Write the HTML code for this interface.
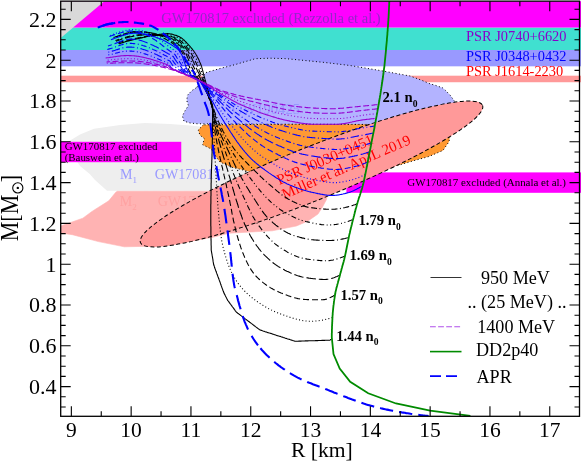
<!DOCTYPE html>
<html><head><meta charset="utf-8"><title>M-R</title>
<style>
html,body{margin:0;padding:0;background:#fff;}
body{width:581px;height:461px;overflow:hidden;}
svg text{font-family:"Liberation Serif",serif;}
svg{will-change:transform;}
</style></head><body>
<svg width="581" height="461" viewBox="0 0 581 461" style="display:block">
<rect x="0" y="0" width="581" height="461" fill="#ffffff"/>
<defs><clipPath id="cp"><rect x="60.70" y="1.15" width="520.30" height="415.15"/></clipPath></defs>
<g clip-path="url(#cp)">
<rect x="60.70" y="27.56" width="520.30" height="22.44" fill="#40e0d0"/>
<rect x="60.70" y="50.00" width="520.30" height="16.32" fill="#9999ff"/>
<rect x="60.70" y="75.70" width="520.30" height="6.53" fill="#ff9999"/>
<rect x="60.70" y="-1.00" width="520.30" height="28.56" fill="#ff00ff"/>
<path d="M60.7 1.1 L104.6 1.1 L60.7 38.0Z" fill="#d9d9d9"/>
<path d="M64.0 150.0 L68.9 141.2 L80.0 134.5 L94.0 128.8 L120.0 125.0 L145.0 123.0 L170.0 124.0 L190.0 125.5 L215.0 128.0 L250.0 140.0 L262.0 160.0 L255.0 180.0 L235.0 190.8 L107.0 190.8 L95.0 180.0 L89.7 174.0 L80.0 166.0 L76.0 160.0Z" fill="#eeeeee"/>
<path d="M60.7 226.0 L70.6 222.5 L82.8 218.2 L92.3 211.2 L108.8 200.8 L115.8 192.2 L117.3 191.3 L240.0 191.2 L300.0 192.0 L327.2 194.6 L326.5 199.5 L322.5 207.0 L318.0 214.0 L308.0 221.0 L296.4 226.0 L272.3 230.8 L229.0 233.2 L212.0 237.5 L180.0 243.0 L160.0 246.0 L141.8 246.4 L124.4 246.8 L98.4 241.6 L72.4 234.7 L60.7 233.0Z" fill="#ffb3b3" stroke="#ffb3b3" stroke-width="0.6" stroke-linejoin="round"/>
<rect x="60.70" y="141.80" width="120.55" height="20.40" fill="#ff00ff"/>
<rect x="346.40" y="172.40" width="234.60" height="20.40" fill="#ff00ff"/>
<text x="120" y="179.2" font-size="14" fill="#9999ff">M<tspan font-size="9" dy="4">1</tspan></text>
<text x="154.8" y="179.2" font-size="14.1" fill="#9999ff">GW170817</text>
<text x="119.7" y="206" font-size="14" fill="#ffa2a2">M<tspan font-size="9" dy="4">2</tspan></text>
<text x="157.7" y="206" font-size="14.1" fill="#ffa2a2">GW170817</text>
<path d="M197.0 87.3 L200.0 80.0 L205.8 72.6 L220.0 68.5 L234.4 64.8 L255.3 58.7 L270.0 58.2 L285.0 58.6 L300.0 60.0 L325.0 62.5 L350.0 65.5 L380.0 70.5 L410.0 76.0 L421.0 80.0 L430.0 83.8 L435.0 85.2 L442.5 87.8 L445.5 90.4 L450.0 95.0 L454.2 100.8 L456.0 104.0 L440.0 125.0 L380.0 125.0 L300.0 124.5 L198.0 123.8 L190.0 123.0 L184.0 121.2 L182.4 116.0 L185.0 110.8 L188.4 105.6 L186.7 100.3 L187.6 95.1 L192.0 90.5Z" fill="#b3b3ff" stroke="#000" stroke-width="1" stroke-dasharray="1 2.5"/>
<text x="231.9" y="114.4" font-size="14.6" fill="#9797ff">GW190425</text>
<path d="M203.4 124.8 L198.2 130.0 L200.0 135.2 L204.3 138.6 L202.6 144.7 L211.2 149.0 L214.7 155.1 L220.0 162.0 L232.0 167.3 L249.4 171.6 L270.0 176.0 L300.0 180.0 L350.0 175.0 L397.8 165.5 L413.4 160.8 L429.0 156.5 L443.0 150.4 L449.0 141.7 L449.9 136.5 L452.0 130.0 L440.0 124.5 L380.0 124.5 L300.0 124.2Z" fill="#ff9933" stroke="#000" stroke-width="1" stroke-dasharray="1 2.5"/>
<ellipse cx="311.50" cy="174.00" rx="184.30" ry="26.60" transform="rotate(-21.87 311.50 174.00)" fill="#ff9999" stroke="#000" stroke-width="1" stroke-dasharray="4 2.5"/>
<text transform="translate(279.2 185) rotate(-23.7)" font-size="14.9" fill="#ff0000">PSR J0030+0451</text>
<text transform="translate(284.6 199.2) rotate(-23.7)" font-size="14.9" fill="#ff0000">Miller et al. ApJL 2019</text>
<path d="M332.0 338.3 L331.6 338.7 L331.2 339.1 L330.7 339.5 L330.3 339.9 L329.9 340.2 L329.3 340.2 L328.7 340.2 L328.2 340.3 L327.6 340.3 L327.0 340.3 L326.4 340.3 L325.9 340.3 L325.3 340.3 L324.7 340.4 L324.1 340.4 L323.6 340.4 L323.0 340.4 L322.4 340.4 L321.8 340.4 L321.3 340.5 L320.7 340.5 L320.1 340.5 L319.5 340.5 L319.0 340.5 L318.4 340.5 L317.8 340.6 L317.2 340.6 L316.7 340.6 L316.1 340.6 L315.5 340.6 L314.9 340.7 L314.4 340.7 L313.8 340.7 L313.2 340.7 L312.6 340.7 L312.1 340.7 L311.5 340.8 L310.9 340.8 L310.3 340.8 L309.8 340.8 L309.2 340.8 L308.6 340.8 L308.0 340.9 L307.5 340.9 L306.9 340.9 L306.3 340.9 L305.7 340.9 L305.2 340.9 L304.6 341.0 L304.0 341.0 L303.4 341.0 L302.9 341.0 L302.3 341.0 L301.7 341.0 L301.1 341.1 L300.5 341.1 L300.0 341.1 L299.4 341.1 L298.8 341.1 L298.2 341.2 L297.7 341.2 L297.1 341.2 L296.5 341.2 L295.9 341.2 L295.4 341.2 L294.8 341.2 L294.3 341.0 L293.7 340.8 L293.2 340.7 L292.6 340.5 L292.1 340.3 L291.5 340.1 L291.0 340.0 L290.4 339.8 L289.9 339.6 L289.3 339.4 L288.8 339.3 L288.2 339.1 L287.7 338.9 L287.1 338.7 L286.6 338.5 L286.0 338.4 L285.5 338.2 L284.9 338.0 L284.4 337.8 L283.9 337.7 L283.3 337.5 L282.8 337.3 L282.2 337.1 L281.7 337.0 L281.1 336.8 L280.6 336.6 L280.0 336.4 L279.5 336.3 L278.9 336.1 L278.4 335.9 L277.8 335.7 L277.3 335.6 L276.7 335.4 L276.2 335.2 L275.6 335.0 L275.1 334.8 L274.5 334.7 L274.0 334.5 L273.4 334.3 L272.9 334.1 L272.3 334.0 L271.8 333.8 L271.3 333.6 L270.7 333.4 L270.2 333.3 L269.6 333.1 L269.1 332.9 L268.5 332.7 L268.0 332.6 L267.4 332.4 L266.9 332.2 L266.3 332.0 L265.8 331.9 L265.2 331.7 L264.7 331.5 L264.1 331.3 L263.6 331.2 L263.0 331.0 L262.5 330.8 L261.9 330.6 L261.4 330.4 L260.8 330.3 L260.3 330.1 L259.8 329.8 L259.3 329.5 L258.9 329.1 L258.4 328.8 L258.0 328.5 L257.5 328.1 L257.0 327.8 L256.6 327.4 L256.1 327.1 L255.7 326.7 L255.2 326.4 L254.7 326.0 L254.3 325.7 L253.8 325.3 L253.4 325.0 L252.9 324.6 L252.5 324.3 L252.0 323.9 L251.5 323.6 L251.1 323.2 L250.6 322.9 L250.2 322.5 L249.7 322.2 L249.2 321.8 L248.8 321.5 L248.3 321.2 L247.9 320.8 L247.4 320.5 L246.9 320.1 L246.5 319.8 L246.0 319.4 L245.6 319.1 L245.1 318.7 L244.7 318.4 L244.2 318.0 L243.7 317.7 L243.3 317.3 L242.8 317.0 L242.4 316.6 L241.9 316.3 L241.4 315.9 L241.0 315.6 L240.5 315.2 L240.1 314.9 L239.6 314.5 L239.2 314.2 L238.7 313.9 L238.2 313.5 L237.8 313.2 L237.3 312.8 L236.9 312.5 L236.4 312.1 L236.0 311.7 L235.7 311.2 L235.3 310.8 L235.0 310.3 L234.7 309.8 L234.3 309.4 L234.0 308.9 L233.7 308.4 L233.3 308.0 L233.0 307.5 L232.6 307.0 L232.3 306.6 L232.0 306.1 L231.6 305.6 L231.3 305.2 L230.9 304.7 L230.6 304.3 L230.3 303.8 L229.9 303.3 L229.6 302.9 L229.2 302.4 L228.9 301.9 L228.6 301.5 L228.2 301.0 L227.9 300.5 L227.5 300.1 L227.3 299.6 L227.0 299.0 L226.8 298.5 L226.5 298.0 L226.3 297.5 L226.0 297.0 L225.7 296.5 L225.5 296.0 L225.2 295.4 L225.0 294.9 L224.7 294.4 L224.4 293.9 L224.2 293.4 L223.9 292.9 L223.7 292.3 L223.5 291.8 L223.3 291.3 L223.1 290.7 L222.9 290.2 L222.7 289.6 L222.5 289.1 L222.3 288.6 L222.1 288.0 L221.9 287.5 L221.7 286.9 L221.5 286.4 L221.3 285.9 L221.1 285.3 L220.9 284.8 L220.7 284.2 L220.5 283.7 L220.4 283.2 L220.2 282.6 L220.0 282.1 L219.8 281.5 L219.6 281.0 L219.4 280.5 L219.2 279.9 L219.0 279.4 L218.8 278.8 L218.6 278.3 L218.4 277.7 L218.2 277.2 L218.0 276.7 L217.8 276.1 L217.6 275.6 L217.4 275.0 L217.2 274.5 L217.0 274.0 L216.8 273.4 L216.6 272.9 L216.4 272.3 L216.2 271.8 L216.0 271.3 L215.8 270.7 L215.6 270.2 L215.4 269.6 L215.2 269.1 L215.0 268.6 L214.8 268.0 L214.6 267.5 L214.5 266.9 L214.3 266.4 L214.1 265.8 L213.9 265.3 L213.7 264.8 L213.6 264.2 L213.5 263.6 L213.4 263.1 L213.3 262.5 L213.2 261.9 L213.1 261.4 L213.0 260.8 L213.0 260.2 L212.9 259.6 L212.8 259.1 L212.7 258.5 L212.6 257.9 L212.5 257.4 L212.4 256.8 L212.3 256.2 L212.2 255.7 L212.1 255.1 L212.0 254.5 L211.9 254.0 L211.8 253.4 L211.7 252.8 L211.6 252.3 L211.5 251.7 L211.4 251.1 L211.3 250.6 L211.2 250.0 L211.2 249.0 L211.2 248.0 L211.2 247.0 L211.2 246.0 L211.1 245.0 L211.1 243.9 L211.1 242.9 L211.1 241.9 L211.1 240.9 L211.0 239.9 L211.0 238.9 L211.0 237.9 L211.0 236.9 L211.0 235.9 L210.9 234.9 L210.9 233.9 L210.9 232.9 L210.9 231.8 L210.9 230.8 L210.9 229.8 L210.9 228.8 L210.9 227.8 L210.9 226.8 L210.8 225.8 L210.8 224.8 L210.8 223.8 L210.8 222.8 L210.8 221.8 L210.8 220.7 L210.8 219.7 L210.8 218.7 L210.8 217.7 L210.8 216.7 L210.8 215.7 L210.8 214.7 L210.8 213.7 L210.8 212.7 L210.8 211.7 L210.8 210.7 L210.8 209.6 L210.8 208.6 L210.8 207.6 L210.8 206.6 L210.8 205.6 L210.8 204.6 L210.9 203.6 L210.9 202.6 L210.9 201.6 L210.9 200.6 L210.9 199.6 L210.9 198.5 L210.9 197.5 L210.9 196.5 L211.0 195.5 L211.0 194.5 L211.0 193.5 L211.0 192.5 L211.0 191.5 L211.0 190.5 L211.0 189.5 L211.1 188.5 L211.1 187.5 L211.1 186.4 L211.1 185.4 L211.1 184.4 L211.1 183.4 L211.2 182.4 L211.2 181.4 L211.2 180.4 L211.2 179.4 L211.2 178.4 L211.3 177.4 L211.3 176.4 L211.3 175.3 L211.3 174.3 L211.4 173.3 L211.4 172.3 L211.4 171.3 L211.5 170.3 L211.5 169.3 L211.5 168.3 L211.6 167.3 L211.6 166.3 L211.6 165.3 L211.7 164.3 L211.7 163.2 L211.8 162.2 L211.8 161.2 L211.8 160.2 L211.9 159.2 L211.9 158.2 L211.9 157.2 L212.0 156.2 L212.0 155.2 L212.0 154.2 L212.1 153.2 L212.1 152.2 L212.1 151.1 L212.2 150.1 L212.2 149.1 L212.2 148.1 L212.2 147.1 L212.2 146.1 L212.3 145.1 L212.3 144.1 L212.3 143.1 L212.3 142.1 L212.3 141.1 L212.3 140.1 L212.4 139.0 L212.4 138.0 L212.4 137.0 L212.4 136.0 L212.4 135.0 L212.4 134.0 L212.4 133.0 L212.5 132.0 L212.5 131.0 L212.5 130.0 L212.5 128.9 L212.5 127.9 L212.5 126.9 L212.5 125.9 L212.5 124.9 L212.6 123.8 L212.6 122.8 L212.6 121.8 L212.6 120.7 L212.6 119.7 L212.6 118.6 L212.6 117.6 L212.6 116.5 L212.6 115.5 L212.6 114.4 L212.6 113.4 L212.6 112.3 L212.6 111.3 L212.6 110.3 L212.6 109.2 L212.6 108.2 L212.5 107.2 L212.4 106.1 L212.2 105.1 L211.9 104.1 L211.7 103.1 L211.4 102.1 L211.1 101.0 L210.8 100.0 L210.5 99.0 L210.2 98.0 L210.0 97.0 L209.7 96.0 L209.4 95.0 L209.2 94.0 L208.9 93.0 L208.6 92.0 L208.4 91.0 L208.1 90.0 L207.8 89.1 L207.5 88.1 L207.2 87.1 L206.9 86.1 L206.6 85.2 L206.3 84.2 L206.1 83.4 L205.9 82.7 L205.7 81.9 L205.5 81.2 L205.3 80.4 L205.1 79.7 L204.9 78.9 L204.7 78.2 L204.5 77.4 L204.3 76.7 L204.1 75.9 L203.9 75.2 L203.7 74.4 L203.5 73.7 L203.3 72.9 L203.1 72.2 L202.9 71.4 L202.7 70.6 L202.5 69.9 L202.3 69.1 L202.1 68.4 L201.9 67.7 L201.7 66.9 L201.4 66.2 L201.2 65.5 L200.9 64.7 L200.6 64.0 L200.3 63.3 L200.0 62.6 L199.7 61.9 L199.4 61.1 L199.1 60.4 L198.8 59.7 L198.5 59.0 L198.1 58.4 L197.8 57.7 L197.4 57.0 L197.0 56.3 L196.7 55.6 L196.3 55.0 L195.9 54.3 L195.5 53.7 L195.1 53.0 L194.6 52.4 L194.2 51.8 L193.8 51.1 L193.3 50.5 L192.8 49.9 L192.4 49.3 L191.9 48.7 L191.4 48.1 L190.9 47.5 L190.5 47.0 L190.0 46.4 L189.5 45.8 L189.0 45.3 L188.4 44.7 L187.9 44.1 L187.4 43.6 L186.9 43.0 L186.4 42.5 L185.8 41.9 L185.3 41.4 L184.8 40.9 L184.3 40.3 L183.7 39.8 L183.1 39.4 L182.6 38.9 L182.0 38.4 L181.4 38.0 L180.7 37.6 L180.1 37.2 L179.4 36.8 L178.8 36.5 L178.1 36.2 L177.4 35.9 L176.7 35.6 L176.0 35.4 L175.3 35.2 L174.6 34.9 L173.8 34.7 L173.1 34.5 L172.4 34.3 L171.7 34.1 L170.9 34.0 L170.2 33.9 L169.4 33.7 L168.7 33.7 L167.9 33.6 L167.1 33.6 L166.3 33.7 L165.6 33.7 L164.8 33.8 L164.0 33.9 L163.2 34.0 L162.5 34.0 L161.7 34.1 L160.9 34.2 L160.1 34.3 L159.4 34.4 L158.6 34.5 L157.8 34.6 L157.1 34.7 L156.3 34.8 L155.5 35.0 L154.8 35.1 L154.0 35.2 L153.3 35.3 L152.5 35.4 L151.8 35.6 L151.0 35.7 L150.3 35.8 L149.5 36.0 L148.8 36.1 L148.1 36.3 L147.3 36.4 L146.6 36.6 L145.9 36.8 L145.2 36.9 L144.4 37.1 L143.7 37.3 L143.0 37.5 L142.3 37.6 L141.6 37.8 L140.9 38.0 L140.2 38.1 L139.5 38.3 L138.8 38.4 L138.1 38.6 L137.5 38.7 L136.8 38.9 L136.1 39.0 L135.4 39.2 L134.8 39.4 L134.1 39.5 L133.4 39.7 L132.8 39.8 L132.1 40.0 L131.5 40.2 L130.9 40.3 L130.2 40.5 L129.6 40.6 L128.9 40.8 L128.3 41.0 L127.7 41.1 L127.0 41.3 L126.4 41.5 L125.8 41.6 L125.2 41.8 L124.5 42.0 L123.9 42.2 L123.3 42.4 L122.7 42.6 L122.0 42.8 L121.4 43.0 L120.8 43.2 L120.2 43.4 L119.6 43.7 L119.0 43.9" fill="none" stroke="#000000" stroke-width="1.1"/>
<path d="M332.5 317.5 L331.3 317.9 L330.0 318.3 L328.8 318.6 L327.5 319.0 L326.3 319.3 L325.0 319.6 L323.8 319.9 L322.5 320.1 L321.2 320.3 L319.9 320.5 L318.7 320.7 L317.4 320.9 L316.1 321.0 L314.8 321.1 L313.5 321.2 L312.2 321.2 L310.9 321.2 L309.6 321.2 L308.3 321.2 L307.1 321.1 L305.8 321.0 L304.5 320.9 L303.2 320.7 L301.9 320.5 L300.7 320.2 L299.4 319.9 L298.1 319.6 L296.9 319.3 L295.6 319.0 L294.4 318.6 L293.2 318.3 L291.9 317.9 L290.7 317.5 L289.5 317.1 L288.2 316.7 L287.0 316.2 L285.8 315.8 L284.6 315.4 L283.4 314.9 L282.1 314.5 L280.9 314.1 L279.7 313.6 L278.5 313.2 L277.3 312.7 L276.1 312.2 L274.9 311.7 L273.7 311.2 L272.5 310.6 L271.4 310.1 L270.2 309.5 L269.1 308.9 L267.9 308.3 L266.8 307.7 L265.7 307.0 L264.6 306.4 L263.5 305.7 L262.4 305.0 L261.3 304.3 L260.2 303.6 L259.1 302.9 L258.0 302.2 L257.0 301.4 L255.9 300.7 L254.9 299.9 L253.9 299.1 L252.8 298.3 L251.8 297.5 L250.8 296.7 L249.8 295.9 L248.9 295.0 L247.9 294.2 L247.0 293.3 L246.0 292.4 L245.1 291.5 L244.2 290.6 L243.3 289.6 L242.4 288.7 L241.6 287.7 L240.7 286.7 L239.9 285.7 L239.1 284.7 L238.3 283.7 L237.6 282.6 L236.9 281.6 L236.2 280.5 L235.5 279.4 L234.8 278.3 L234.1 277.2 L233.5 276.0 L232.9 274.9 L232.3 273.7 L231.7 272.6 L231.1 271.4 L230.6 270.3 L230.1 269.1 L229.6 267.9 L229.1 266.7 L228.6 265.5 L228.1 264.3 L227.7 263.1 L227.3 261.8 L226.9 260.6 L226.5 259.4 L226.1 258.1 L225.7 256.9 L225.3 255.7 L225.0 254.4 L224.6 253.2 L224.3 251.9 L224.0 250.7 L223.6 249.4 L223.3 248.2 L223.0 246.9 L222.8 245.7 L222.5 244.4 L222.2 243.1 L222.0 241.9 L221.7 240.6 L221.5 239.3 L221.3 238.0 L221.1 236.7 L221.0 235.5 L220.8 234.2 L220.6 232.9 L220.4 231.6 L220.3 230.3 L220.1 229.1 L220.0 227.8 L219.8 226.5 L219.7 225.2 L219.5 223.9 L219.4 222.6 L219.3 221.3 L219.2 220.1 L219.0 218.8 L218.9 217.5 L218.8 216.2 L218.7 214.9 L218.6 213.6 L218.5 212.3 L218.4 211.0 L218.2 209.8 L218.1 208.5 L218.0 207.2 L217.9 205.9 L217.8 204.6 L217.7 203.3 L217.6 202.0 L217.6 200.7 L217.5 199.4 L217.4 198.1 L217.3 196.9 L217.2 195.6 L217.1 194.3 L217.0 193.0 L216.9 191.7 L216.9 190.4 L216.8 189.1 L216.7 187.8 L216.6 186.5 L216.6 185.2 L216.5 183.9 L216.4 182.7 L216.4 181.4 L216.3 180.1 L216.2 178.8 L216.1 177.5 L216.1 176.2 L216.0 174.9 L215.9 173.6 L215.8 172.3 L215.8 171.0 L215.7 169.7 L215.6 168.5 L215.6 167.2 L215.5 165.9 L215.4 164.6 L215.3 163.3 L215.3 162.0 L215.2 160.7 L215.1 159.4 L215.1 158.1 L215.0 156.8 L214.9 155.5 L214.8 154.3 L214.8 153.0 L214.7 151.7 L214.6 150.4 L214.6 149.1 L214.5 147.8 L214.4 146.5 L214.3 145.2 L214.3 143.9 L214.2 142.6 L214.1 141.3 L214.0 140.1 L214.0 138.8 L213.9 137.5 L213.8 136.2 L213.7 134.9 L213.7 133.6 L213.6 132.3 L213.5 131.0 L213.5 129.7 L213.4 128.4 L213.3 127.1 L213.2 125.8 L213.2 124.6 L213.1 123.3 L213.1 122.0 L213.0 120.7 L213.0 119.4 L212.9 118.1 L212.9 116.8 L212.8 115.5 L212.8 114.2 L212.7 112.9 L212.6 111.6 L212.5 110.2 L212.4 108.9 L212.2 107.5 L212.0 106.2 L211.6 104.9 L211.3 103.5 L210.9 102.2 L210.5 100.9 L210.1 99.6 L209.7 98.2 L209.4 96.9 L209.0 95.6 L208.7 94.2 L208.3 92.9 L207.9 91.6 L207.6 90.3 L207.2 89.0 L206.8 87.7 L206.4 86.4 L206.0 85.2 L205.7 83.9 L205.4 83.2 L205.2 82.5 L205.0 81.8 L204.7 81.1 L204.5 80.4 L204.2 79.7 L204.0 79.0 L203.8 78.3 L203.5 77.6 L203.3 76.9 L203.0 76.2 L202.8 75.5 L202.5 74.8 L202.3 74.1 L202.1 73.4 L201.8 72.7 L201.6 72.0 L201.3 71.3 L201.1 70.6 L200.8 69.9 L200.6 69.2 L200.4 68.5 L200.1 67.8 L199.8 67.1 L199.6 66.4 L199.3 65.7 L199.0 65.0 L198.7 64.3 L198.4 63.7 L198.1 63.0 L197.8 62.3 L197.5 61.6 L197.2 60.9 L196.9 60.2 L196.6 59.5 L196.2 58.9 L195.9 58.2 L195.6 57.5 L195.2 56.8 L194.8 56.2 L194.5 55.5 L194.1 54.9 L193.7 54.2 L193.3 53.6 L192.9 52.9 L192.5 52.3 L192.1 51.7 L191.6 51.0 L191.2 50.4 L190.8 49.8 L190.3 49.2 L189.9 48.6 L189.4 48.0 L188.9 47.4 L188.4 46.8 L188.0 46.3 L187.5 45.7 L187.0 45.1 L186.5 44.6 L186.0 44.0 L185.5 43.4 L184.9 42.9 L184.4 42.4 L183.9 41.9 L183.3 41.3 L182.8 40.8 L182.2 40.4 L181.6 39.9 L181.0 39.5 L180.4 39.0 L179.8 38.6 L179.2 38.3 L178.5 37.9 L177.9 37.6 L177.2 37.2 L176.5 36.9 L175.8 36.7 L175.1 36.4 L174.4 36.2 L173.7 36.0 L173.0 35.7 L172.3 35.5 L171.5 35.3 L170.8 35.1 L170.1 35.0 L169.3 34.8 L168.6 34.7 L167.8 34.6 L167.1 34.5 L166.3 34.5 L165.6 34.5 L164.8 34.6 L164.0 34.6 L163.2 34.7 L162.5 34.7 L161.7 34.8 L160.9 34.9 L160.2 34.9 L159.4 35.0 L158.6 35.1 L157.9 35.2 L157.1 35.2 L156.4 35.3 L155.6 35.4 L154.8 35.5 L154.1 35.6 L153.3 35.7 L152.6 35.8 L151.8 35.9 L151.1 36.0 L150.4 36.1 L149.6 36.2 L148.9 36.3 L148.1 36.5 L147.4 36.6 L146.7 36.7 L146.0 36.9 L145.2 37.0 L144.5 37.2 L143.8 37.3 L143.1 37.5 L142.4 37.6 L141.7 37.8 L141.0 37.9 L140.2 38.1 L139.5 38.2 L138.8 38.4 L138.2 38.5 L137.5 38.7 L136.8 38.8 L136.1 38.9 L135.4 39.1 L134.7 39.2 L134.0 39.4 L133.4 39.5 L132.7 39.7 L132.0 39.8 L131.4 40.0 L130.7 40.2 L130.1 40.3 L129.4 40.5 L128.8 40.6 L128.1 40.8 L127.5 41.0 L126.8 41.1 L126.2 41.3 L125.6 41.5 L124.9 41.6 L124.3 41.8 L123.6 42.0 L123.0 42.2 L122.4 42.4 L121.7 42.6 L121.1 42.8 L120.5 43.0 L119.9 43.2 L119.2 43.4 L118.6 43.7 L118.0 43.9" fill="none" stroke="#000000" stroke-width="1.1" stroke-dasharray="1 2.3"/>
<path d="M335.0 295.0 L334.0 295.6 L332.9 296.2 L331.9 296.7 L330.8 297.3 L329.7 297.8 L328.6 298.3 L327.5 298.7 L326.4 299.1 L325.2 299.4 L324.1 299.6 L322.9 299.8 L321.7 299.8 L320.5 299.8 L319.3 299.8 L318.1 299.8 L316.9 299.8 L315.7 299.8 L314.5 299.7 L313.3 299.7 L312.2 299.7 L311.0 299.7 L309.8 299.6 L308.6 299.6 L307.4 299.6 L306.2 299.5 L305.0 299.5 L303.8 299.4 L302.6 299.3 L301.4 299.2 L300.3 299.0 L299.1 298.8 L297.9 298.6 L296.7 298.3 L295.6 298.0 L294.4 297.7 L293.3 297.4 L292.2 297.1 L291.0 296.7 L289.9 296.3 L288.8 295.9 L287.6 295.5 L286.5 295.1 L285.4 294.7 L284.3 294.2 L283.2 293.8 L282.1 293.3 L281.0 292.9 L279.9 292.4 L278.8 292.0 L277.7 291.5 L276.6 291.0 L275.5 290.5 L274.5 289.9 L273.4 289.4 L272.4 288.8 L271.3 288.2 L270.3 287.6 L269.3 286.9 L268.3 286.3 L267.3 285.6 L266.3 285.0 L265.3 284.3 L264.4 283.6 L263.4 282.9 L262.5 282.1 L261.6 281.4 L260.7 280.6 L259.8 279.8 L258.9 279.0 L258.0 278.2 L257.2 277.3 L256.3 276.5 L255.5 275.6 L254.8 274.7 L254.0 273.8 L253.3 272.8 L252.6 271.9 L251.9 270.9 L251.2 269.9 L250.6 268.9 L250.0 267.9 L249.4 266.8 L248.8 265.8 L248.2 264.7 L247.7 263.7 L247.1 262.6 L246.6 261.6 L246.1 260.5 L245.6 259.4 L245.1 258.3 L244.6 257.2 L244.2 256.1 L243.7 255.0 L243.3 253.9 L242.8 252.8 L242.4 251.7 L242.0 250.6 L241.5 249.5 L241.1 248.3 L240.7 247.2 L240.4 246.1 L240.0 244.9 L239.6 243.8 L239.3 242.7 L238.9 241.5 L238.6 240.4 L238.2 239.3 L237.9 238.1 L237.6 237.0 L237.2 235.8 L236.9 234.7 L236.6 233.5 L236.3 232.4 L236.0 231.2 L235.7 230.0 L235.4 228.9 L235.2 227.7 L234.9 226.6 L234.6 225.4 L234.3 224.2 L234.1 223.1 L233.8 221.9 L233.5 220.8 L233.3 219.6 L233.1 218.4 L232.8 217.2 L232.6 216.1 L232.4 214.9 L232.1 213.7 L231.9 212.6 L231.7 211.4 L231.5 210.2 L231.3 209.0 L231.0 207.9 L230.8 206.7 L230.6 205.5 L230.4 204.4 L230.1 203.2 L229.9 202.0 L229.7 200.8 L229.4 199.7 L229.2 198.5 L228.9 197.3 L228.7 196.2 L228.4 195.0 L228.2 193.8 L227.9 192.7 L227.7 191.5 L227.4 190.4 L227.2 189.2 L226.9 188.0 L226.6 186.9 L226.4 185.7 L226.1 184.5 L225.9 183.4 L225.6 182.2 L225.3 181.0 L225.1 179.9 L224.8 178.7 L224.6 177.5 L224.3 176.4 L224.0 175.2 L223.8 174.1 L223.5 172.9 L223.3 171.7 L223.0 170.6 L222.7 169.4 L222.5 168.2 L222.2 167.1 L221.9 165.9 L221.7 164.7 L221.4 163.6 L221.1 162.4 L220.9 161.3 L220.6 160.1 L220.3 158.9 L220.1 157.8 L219.8 156.6 L219.5 155.4 L219.3 154.3 L219.0 153.1 L218.8 151.9 L218.6 150.8 L218.3 149.6 L218.1 148.4 L217.9 147.3 L217.6 146.1 L217.4 144.9 L217.2 143.8 L216.9 142.6 L216.7 141.4 L216.5 140.2 L216.2 139.1 L216.0 137.9 L215.8 136.7 L215.6 135.6 L215.4 134.4 L215.2 133.2 L215.0 132.0 L214.8 130.9 L214.6 129.7 L214.4 128.5 L214.3 127.3 L214.1 126.1 L214.0 124.9 L213.9 123.8 L213.8 122.6 L213.7 121.4 L213.6 120.2 L213.5 119.0 L213.4 117.8 L213.3 116.6 L213.2 115.4 L213.1 114.2 L213.0 113.1 L212.9 111.9 L212.8 110.6 L212.6 109.4 L212.4 108.2 L212.1 107.0 L211.8 105.7 L211.4 104.5 L211.1 103.2 L210.7 102.0 L210.3 100.8 L209.8 99.5 L209.4 98.3 L209.0 97.0 L208.7 95.8 L208.3 94.5 L207.9 93.3 L207.6 92.0 L207.2 90.8 L206.8 89.6 L206.5 88.4 L206.1 87.2 L205.7 86.0 L205.4 84.8 L205.0 83.7 L204.7 83.0 L204.5 82.4 L204.2 81.7 L203.9 81.1 L203.6 80.4 L203.4 79.8 L203.1 79.1 L202.8 78.5 L202.5 77.8 L202.2 77.2 L201.9 76.6 L201.6 75.9 L201.4 75.3 L201.1 74.6 L200.8 74.0 L200.5 73.3 L200.2 72.7 L199.9 72.0 L199.6 71.4 L199.3 70.7 L199.1 70.1 L198.8 69.4 L198.5 68.8 L198.3 68.1 L198.0 67.4 L197.7 66.7 L197.4 66.1 L197.1 65.4 L196.9 64.7 L196.6 64.1 L196.3 63.4 L196.0 62.7 L195.6 62.1 L195.3 61.4 L195.0 60.7 L194.7 60.0 L194.4 59.4 L194.1 58.7 L193.7 58.0 L193.4 57.4 L193.0 56.7 L192.7 56.0 L192.3 55.4 L192.0 54.7 L191.6 54.1 L191.2 53.4 L190.8 52.8 L190.4 52.2 L190.0 51.5 L189.6 50.9 L189.2 50.2 L188.8 49.6 L188.4 49.0 L187.9 48.4 L187.4 47.8 L186.9 47.3 L186.5 46.7 L186.0 46.1 L185.5 45.5 L185.0 45.0 L184.5 44.4 L184.0 43.9 L183.5 43.3 L182.9 42.8 L182.4 42.3 L181.8 41.9 L181.3 41.4 L180.7 40.9 L180.1 40.5 L179.5 40.1 L178.9 39.7 L178.2 39.3 L177.6 38.9 L176.9 38.6 L176.3 38.2 L175.6 37.9 L174.9 37.7 L174.2 37.4 L173.5 37.2 L172.8 36.9 L172.1 36.7 L171.4 36.4 L170.7 36.2 L170.0 36.0 L169.3 35.8 L168.5 35.6 L167.8 35.5 L167.1 35.4 L166.3 35.3 L165.6 35.2 L164.8 35.2 L164.1 35.2 L163.3 35.2 L162.5 35.3 L161.8 35.3 L161.0 35.3 L160.3 35.3 L159.5 35.4 L158.8 35.4 L158.0 35.4 L157.3 35.5 L156.5 35.5 L155.8 35.6 L155.0 35.6 L154.3 35.7 L153.5 35.7 L152.8 35.8 L152.0 35.8 L151.3 35.9 L150.6 36.0 L149.8 36.0 L149.1 36.1 L148.4 36.2 L147.6 36.3 L146.9 36.4 L146.2 36.5 L145.4 36.6 L144.7 36.8 L144.0 36.9 L143.3 37.0 L142.6 37.1 L141.8 37.3 L141.1 37.4 L140.4 37.5 L139.7 37.7 L139.0 37.8 L138.3 37.9 L137.6 38.0 L136.9 38.2 L136.2 38.3 L135.5 38.4 L134.8 38.5 L134.1 38.7 L133.4 38.8 L132.8 39.0 L132.1 39.1 L131.4 39.3 L130.7 39.4 L130.1 39.6 L129.4 39.7 L128.7 39.9 L128.1 40.1 L127.4 40.2 L126.7 40.4 L126.1 40.6 L125.4 40.7 L124.8 40.9 L124.1 41.1 L123.4 41.3 L122.8 41.5 L122.1 41.6 L121.5 41.8 L120.8 42.1 L120.2 42.3 L119.5 42.5 L118.9 42.7 L118.3 42.9 L117.6 43.2 L117.0 43.4" fill="none" stroke="#000000" stroke-width="1.1" stroke-dasharray="6 3"/>
<path d="M340.0 275.0 L339.0 275.5 L338.0 275.9 L337.0 276.4 L336.0 276.8 L335.0 277.3 L333.9 277.7 L332.9 278.0 L331.8 278.4 L330.8 278.7 L329.7 278.9 L328.6 279.2 L327.5 279.3 L326.4 279.4 L325.3 279.5 L324.2 279.5 L323.1 279.5 L322.0 279.4 L320.9 279.4 L319.8 279.3 L318.7 279.2 L317.6 279.1 L316.5 279.0 L315.4 278.9 L314.3 278.8 L313.2 278.7 L312.1 278.5 L311.0 278.4 L309.9 278.2 L308.8 278.1 L307.7 277.9 L306.6 277.8 L305.5 277.6 L304.5 277.4 L303.4 277.2 L302.3 277.0 L301.2 276.7 L300.1 276.4 L299.1 276.1 L298.0 275.8 L297.0 275.5 L295.9 275.1 L294.9 274.7 L293.9 274.3 L292.8 273.9 L291.8 273.5 L290.8 273.0 L289.8 272.6 L288.8 272.1 L287.8 271.6 L286.8 271.2 L285.8 270.7 L284.8 270.2 L283.9 269.6 L282.9 269.1 L281.9 268.6 L281.0 268.0 L280.0 267.5 L279.0 266.9 L278.1 266.4 L277.2 265.8 L276.3 265.1 L275.3 264.5 L274.5 263.9 L273.6 263.2 L272.7 262.5 L271.8 261.8 L271.0 261.1 L270.1 260.4 L269.3 259.7 L268.5 258.9 L267.7 258.2 L266.9 257.4 L266.1 256.6 L265.3 255.9 L264.5 255.1 L263.8 254.3 L263.0 253.5 L262.3 252.6 L261.5 251.8 L260.8 251.0 L260.1 250.1 L259.4 249.3 L258.7 248.4 L258.1 247.5 L257.4 246.7 L256.7 245.8 L256.1 244.9 L255.5 243.9 L254.8 243.0 L254.2 242.1 L253.6 241.2 L253.1 240.2 L252.5 239.3 L251.9 238.4 L251.3 237.4 L250.8 236.5 L250.2 235.5 L249.7 234.5 L249.2 233.5 L248.7 232.6 L248.2 231.6 L247.7 230.6 L247.2 229.6 L246.7 228.6 L246.2 227.6 L245.7 226.6 L245.3 225.6 L244.8 224.6 L244.4 223.6 L244.0 222.6 L243.5 221.6 L243.1 220.5 L242.7 219.5 L242.3 218.5 L242.0 217.4 L241.6 216.4 L241.2 215.3 L240.9 214.3 L240.5 213.3 L240.1 212.2 L239.8 211.2 L239.5 210.1 L239.1 209.1 L238.8 208.0 L238.4 207.0 L238.1 205.9 L237.8 204.8 L237.4 203.8 L237.1 202.7 L236.8 201.7 L236.4 200.6 L236.1 199.6 L235.8 198.5 L235.5 197.5 L235.1 196.4 L234.8 195.3 L234.5 194.3 L234.2 193.2 L233.9 192.2 L233.6 191.1 L233.3 190.0 L233.0 189.0 L232.7 187.9 L232.4 186.9 L232.1 185.8 L231.8 184.7 L231.5 183.7 L231.2 182.6 L230.9 181.5 L230.6 180.5 L230.3 179.4 L230.0 178.3 L229.7 177.3 L229.4 176.2 L229.0 175.2 L228.7 174.1 L228.4 173.0 L228.1 172.0 L227.8 170.9 L227.5 169.9 L227.2 168.8 L226.8 167.7 L226.5 166.7 L226.2 165.6 L225.9 164.6 L225.6 163.5 L225.2 162.5 L224.9 161.4 L224.6 160.3 L224.3 159.3 L224.0 158.2 L223.6 157.2 L223.3 156.1 L223.0 155.0 L222.7 154.0 L222.4 152.9 L222.1 151.9 L221.8 150.8 L221.5 149.7 L221.2 148.7 L220.9 147.6 L220.6 146.5 L220.3 145.5 L220.0 144.4 L219.7 143.4 L219.4 142.3 L219.1 141.2 L218.8 140.2 L218.5 139.1 L218.2 138.0 L217.9 137.0 L217.6 135.9 L217.3 134.8 L217.0 133.8 L216.7 132.7 L216.4 131.6 L216.2 130.6 L215.9 129.5 L215.7 128.4 L215.5 127.3 L215.2 126.2 L215.0 125.2 L214.8 124.1 L214.7 123.0 L214.5 121.9 L214.3 120.8 L214.2 119.7 L214.1 118.6 L213.9 117.5 L213.8 116.4 L213.6 115.3 L213.5 114.2 L213.3 113.1 L213.2 112.0 L213.0 110.9 L212.8 109.8 L212.5 108.7 L212.2 107.6 L211.9 106.5 L211.6 105.3 L211.2 104.2 L210.8 103.0 L210.4 101.9 L210.0 100.7 L209.6 99.5 L209.2 98.3 L208.8 97.1 L208.4 95.9 L208.0 94.8 L207.6 93.6 L207.3 92.4 L206.9 91.2 L206.5 90.1 L206.1 88.9 L205.8 87.8 L205.4 86.6 L205.0 85.5 L204.7 84.5 L204.4 83.4 L204.1 82.8 L203.7 82.2 L203.4 81.6 L203.1 81.0 L202.8 80.4 L202.5 79.8 L202.2 79.2 L201.8 78.7 L201.5 78.1 L201.2 77.5 L200.8 76.9 L200.5 76.3 L200.2 75.7 L199.8 75.1 L199.5 74.5 L199.2 73.9 L198.8 73.3 L198.5 72.7 L198.2 72.1 L197.8 71.5 L197.5 70.9 L197.3 70.3 L197.0 69.7 L196.7 69.0 L196.4 68.4 L196.1 67.8 L195.8 67.1 L195.5 66.5 L195.2 65.8 L194.9 65.2 L194.7 64.5 L194.4 63.9 L194.1 63.2 L193.8 62.6 L193.5 61.9 L193.1 61.2 L192.8 60.6 L192.5 59.9 L192.2 59.2 L191.9 58.6 L191.6 57.9 L191.3 57.2 L190.9 56.6 L190.6 55.9 L190.3 55.3 L189.9 54.6 L189.5 53.9 L189.2 53.3 L188.8 52.6 L188.4 52.0 L188.1 51.3 L187.7 50.6 L187.3 50.0 L186.8 49.4 L186.3 48.8 L185.9 48.3 L185.4 47.7 L185.0 47.1 L184.5 46.5 L184.0 45.9 L183.5 45.3 L183.0 44.8 L182.5 44.3 L181.9 43.8 L181.4 43.3 L180.8 42.8 L180.3 42.4 L179.7 41.9 L179.1 41.5 L178.5 41.0 L177.9 40.6 L177.3 40.2 L176.6 39.8 L176.0 39.5 L175.3 39.1 L174.7 38.8 L174.0 38.5 L173.3 38.2 L172.7 37.9 L172.0 37.6 L171.3 37.3 L170.6 37.0 L170.0 36.7 L169.3 36.5 L168.6 36.2 L167.9 36.0 L167.2 35.8 L166.5 35.6 L165.7 35.5 L165.0 35.3 L164.3 35.2 L163.6 35.2 L162.8 35.1 L162.1 35.1 L161.4 35.0 L160.6 35.0 L159.9 34.9 L159.2 34.9 L158.5 34.8 L157.7 34.8 L157.0 34.7 L156.3 34.7 L155.5 34.7 L154.8 34.6 L154.1 34.6 L153.4 34.6 L152.6 34.6 L151.9 34.6 L151.2 34.5 L150.5 34.5 L149.7 34.5 L149.0 34.5 L148.3 34.6 L147.5 34.6 L146.8 34.6 L146.1 34.7 L145.4 34.7 L144.7 34.8 L143.9 34.8 L143.2 34.9 L142.5 35.0 L141.8 35.1 L141.1 35.1 L140.3 35.2 L139.6 35.3 L138.9 35.4 L138.2 35.5 L137.5 35.6 L136.8 35.7 L136.0 35.8 L135.3 35.9 L134.6 36.0 L133.9 36.1 L133.2 36.2 L132.5 36.4 L131.8 36.5 L131.1 36.7 L130.4 36.8 L129.7 37.0 L129.0 37.2 L128.3 37.3 L127.6 37.5 L126.9 37.7 L126.2 37.9 L125.5 38.1 L124.8 38.3 L124.1 38.5 L123.4 38.7 L122.7 38.9 L122.1 39.1 L121.4 39.3 L120.7 39.5 L120.0 39.7 L119.3 39.9 L118.7 40.2 L118.0 40.4 L117.3 40.7 L116.7 40.9 L116.0 41.2" fill="none" stroke="#000000" stroke-width="1.1" stroke-dasharray="9.5 3"/>
<path d="M345.0 256.0 L344.0 256.4 L343.1 256.8 L342.1 257.2 L341.1 257.6 L340.1 257.9 L339.2 258.3 L338.2 258.6 L337.2 258.9 L336.2 259.2 L335.2 259.5 L334.1 259.7 L333.1 260.0 L332.1 260.2 L331.1 260.3 L330.0 260.5 L329.0 260.6 L328.0 260.7 L326.9 260.7 L325.9 260.7 L324.8 260.7 L323.8 260.7 L322.7 260.7 L321.7 260.6 L320.7 260.6 L319.6 260.5 L318.6 260.4 L317.5 260.3 L316.5 260.3 L315.4 260.1 L314.4 260.0 L313.4 259.9 L312.3 259.8 L311.3 259.7 L310.3 259.5 L309.2 259.4 L308.2 259.2 L307.2 259.1 L306.1 258.9 L305.1 258.8 L304.1 258.6 L303.0 258.4 L302.0 258.1 L301.0 257.9 L300.0 257.6 L299.0 257.3 L298.0 256.9 L297.0 256.6 L296.1 256.2 L295.1 255.8 L294.1 255.4 L293.2 255.0 L292.2 254.6 L291.3 254.1 L290.4 253.6 L289.4 253.2 L288.5 252.7 L287.6 252.2 L286.7 251.6 L285.8 251.1 L284.9 250.6 L284.0 250.1 L283.1 249.5 L282.2 248.9 L281.3 248.4 L280.5 247.8 L279.6 247.2 L278.7 246.6 L277.9 246.0 L277.1 245.4 L276.2 244.7 L275.4 244.1 L274.6 243.4 L273.8 242.7 L273.1 242.0 L272.3 241.3 L271.5 240.6 L270.8 239.9 L270.1 239.1 L269.3 238.4 L268.6 237.6 L267.9 236.9 L267.2 236.1 L266.5 235.3 L265.8 234.5 L265.1 233.7 L264.5 232.9 L263.8 232.1 L263.1 231.3 L262.5 230.5 L261.8 229.7 L261.2 228.8 L260.6 228.0 L260.0 227.2 L259.3 226.3 L258.7 225.5 L258.1 224.6 L257.5 223.8 L256.9 222.9 L256.3 222.0 L255.8 221.2 L255.2 220.3 L254.6 219.4 L254.1 218.5 L253.6 217.6 L253.0 216.7 L252.5 215.8 L252.0 214.9 L251.5 214.0 L251.1 213.0 L250.6 212.1 L250.1 211.2 L249.7 210.2 L249.3 209.3 L248.8 208.3 L248.4 207.4 L247.9 206.4 L247.5 205.5 L247.1 204.5 L246.6 203.6 L246.2 202.6 L245.8 201.7 L245.3 200.7 L244.9 199.8 L244.5 198.8 L244.0 197.9 L243.6 196.9 L243.1 196.0 L242.7 195.0 L242.3 194.1 L241.8 193.1 L241.4 192.2 L241.0 191.2 L240.5 190.3 L240.1 189.3 L239.7 188.4 L239.3 187.4 L238.8 186.5 L238.4 185.5 L238.0 184.6 L237.6 183.6 L237.2 182.6 L236.8 181.7 L236.4 180.7 L236.0 179.8 L235.6 178.8 L235.2 177.8 L234.8 176.9 L234.4 175.9 L234.0 174.9 L233.6 174.0 L233.2 173.0 L232.8 172.0 L232.4 171.0 L232.1 170.1 L231.7 169.1 L231.3 168.1 L230.9 167.1 L230.6 166.2 L230.2 165.2 L229.8 164.2 L229.5 163.2 L229.1 162.2 L228.8 161.3 L228.4 160.3 L228.1 159.3 L227.7 158.3 L227.3 157.3 L227.0 156.3 L226.6 155.4 L226.3 154.4 L225.9 153.4 L225.6 152.4 L225.2 151.4 L224.9 150.4 L224.5 149.5 L224.2 148.5 L223.8 147.5 L223.5 146.5 L223.1 145.5 L222.7 144.6 L222.4 143.6 L222.0 142.6 L221.6 141.6 L221.2 140.7 L220.9 139.7 L220.5 138.7 L220.1 137.7 L219.8 136.7 L219.4 135.8 L219.1 134.8 L218.7 133.8 L218.4 132.8 L218.0 131.8 L217.7 130.8 L217.4 129.8 L217.1 128.8 L216.8 127.8 L216.5 126.8 L216.2 125.8 L216.0 124.8 L215.7 123.8 L215.5 122.8 L215.3 121.8 L215.1 120.7 L214.9 119.7 L214.7 118.7 L214.5 117.6 L214.3 116.6 L214.1 115.6 L214.0 114.6 L213.8 113.5 L213.6 112.5 L213.3 111.5 L213.1 110.5 L212.9 109.5 L212.6 108.4 L212.3 107.4 L212.0 106.3 L211.7 105.3 L211.3 104.2 L210.9 103.1 L210.5 101.9 L210.1 100.8 L209.7 99.7 L209.3 98.5 L208.9 97.4 L208.5 96.2 L208.0 95.1 L207.6 94.0 L207.2 92.8 L206.8 91.7 L206.4 90.6 L206.0 89.4 L205.6 88.3 L205.2 87.3 L204.8 86.2 L204.4 85.1 L204.1 84.1 L203.7 83.1 L203.4 82.6 L203.0 82.0 L202.7 81.5 L202.3 81.0 L202.0 80.4 L201.6 79.9 L201.2 79.4 L200.9 78.8 L200.5 78.3 L200.1 77.7 L199.7 77.2 L199.4 76.7 L199.0 76.1 L198.6 75.6 L198.2 75.0 L197.9 74.5 L197.5 74.0 L197.1 73.4 L196.7 72.9 L196.3 72.3 L196.0 71.8 L195.7 71.2 L195.4 70.6 L195.1 70.0 L194.8 69.4 L194.5 68.8 L194.3 68.2 L194.0 67.5 L193.7 66.9 L193.4 66.3 L193.1 65.7 L192.8 65.0 L192.5 64.4 L192.2 63.7 L191.9 63.1 L191.6 62.4 L191.4 61.8 L191.1 61.1 L190.8 60.4 L190.5 59.8 L190.2 59.1 L189.9 58.4 L189.6 57.8 L189.3 57.1 L189.0 56.4 L188.7 55.8 L188.3 55.1 L188.0 54.4 L187.7 53.7 L187.3 53.0 L187.0 52.4 L186.7 51.7 L186.3 51.0 L185.8 50.4 L185.4 49.8 L184.9 49.3 L184.5 48.7 L184.0 48.1 L183.6 47.5 L183.1 46.9 L182.7 46.3 L182.2 45.8 L181.6 45.3 L181.1 44.8 L180.5 44.3 L180.0 43.8 L179.4 43.4 L178.8 42.9 L178.2 42.5 L177.6 42.1 L177.0 41.6 L176.4 41.2 L175.8 40.9 L175.2 40.5 L174.5 40.1 L173.9 39.8 L173.2 39.5 L172.6 39.1 L171.9 38.8 L171.2 38.5 L170.6 38.2 L169.9 37.9 L169.3 37.6 L168.6 37.3 L167.9 37.1 L167.2 36.8 L166.5 36.6 L165.9 36.4 L165.2 36.2 L164.4 36.0 L163.7 35.9 L163.0 35.8 L162.3 35.7 L161.6 35.6 L160.9 35.5 L160.2 35.4 L159.5 35.3 L158.8 35.2 L158.0 35.1 L157.3 35.1 L156.6 35.0 L155.9 34.9 L155.2 34.8 L154.5 34.8 L153.8 34.7 L153.0 34.7 L152.3 34.6 L151.6 34.5 L150.9 34.5 L150.2 34.5 L149.5 34.4 L148.7 34.4 L148.0 34.4 L147.3 34.4 L146.6 34.4 L145.9 34.4 L145.2 34.4 L144.4 34.4 L143.7 34.5 L143.0 34.5 L142.3 34.5 L141.6 34.6 L140.9 34.6 L140.1 34.7 L139.4 34.8 L138.7 34.8 L138.0 34.9 L137.3 35.0 L136.5 35.1 L135.8 35.1 L135.1 35.2 L134.4 35.3 L133.7 35.4 L133.0 35.5 L132.2 35.7 L131.5 35.8 L130.8 36.0 L130.1 36.1 L129.4 36.3 L128.7 36.5 L128.0 36.6 L127.3 36.8 L126.6 37.0 L125.9 37.2 L125.2 37.4 L124.5 37.6 L123.8 37.8 L123.1 38.0 L122.4 38.2 L121.7 38.4 L121.0 38.6 L120.3 38.8 L119.6 39.1 L118.9 39.3 L118.2 39.6 L117.5 39.8 L116.9 40.1 L116.2 40.3 L115.5 40.6" fill="none" stroke="#000000" stroke-width="1.1" stroke-dasharray="5.5 2.6 1 2.6"/>
<path d="M348.8 237.5 L347.8 237.8 L346.8 238.0 L345.9 238.2 L344.9 238.5 L344.0 238.7 L343.0 238.9 L342.1 239.1 L341.1 239.3 L340.1 239.5 L339.2 239.7 L338.2 239.8 L337.2 240.0 L336.3 240.1 L335.3 240.2 L334.3 240.3 L333.3 240.4 L332.3 240.4 L331.4 240.5 L330.4 240.5 L329.4 240.5 L328.4 240.5 L327.4 240.5 L326.4 240.5 L325.5 240.4 L324.5 240.4 L323.5 240.4 L322.5 240.4 L321.5 240.3 L320.5 240.3 L319.6 240.2 L318.6 240.2 L317.6 240.1 L316.6 240.1 L315.6 240.0 L314.7 240.0 L313.7 239.9 L312.7 239.8 L311.7 239.7 L310.7 239.6 L309.8 239.5 L308.8 239.3 L307.8 239.1 L306.9 239.0 L305.9 238.8 L304.9 238.6 L304.0 238.3 L303.0 238.1 L302.1 237.9 L301.1 237.6 L300.2 237.4 L299.2 237.1 L298.3 236.8 L297.3 236.6 L296.4 236.3 L295.5 236.0 L294.5 235.7 L293.6 235.4 L292.7 235.1 L291.7 234.7 L290.8 234.4 L289.9 234.0 L289.0 233.6 L288.1 233.2 L287.3 232.7 L286.4 232.3 L285.5 231.8 L284.7 231.3 L283.8 230.8 L283.0 230.3 L282.2 229.8 L281.3 229.2 L280.5 228.7 L279.7 228.1 L278.9 227.5 L278.2 226.9 L277.4 226.3 L276.6 225.7 L275.8 225.1 L275.1 224.5 L274.3 223.8 L273.6 223.2 L272.8 222.6 L272.1 221.9 L271.4 221.2 L270.7 220.6 L269.9 219.9 L269.2 219.2 L268.5 218.5 L267.8 217.8 L267.1 217.1 L266.5 216.4 L265.8 215.7 L265.2 214.9 L264.6 214.2 L263.9 213.4 L263.4 212.6 L262.8 211.8 L262.2 211.0 L261.6 210.2 L261.1 209.4 L260.5 208.6 L260.0 207.8 L259.5 207.0 L258.9 206.1 L258.4 205.3 L257.9 204.5 L257.3 203.6 L256.8 202.8 L256.3 202.0 L255.8 201.2 L255.2 200.3 L254.7 199.5 L254.1 198.7 L253.6 197.9 L253.1 197.0 L252.5 196.2 L252.0 195.4 L251.5 194.6 L251.0 193.7 L250.4 192.9 L249.9 192.1 L249.4 191.2 L248.9 190.4 L248.4 189.5 L247.9 188.7 L247.3 187.9 L246.8 187.0 L246.3 186.2 L245.8 185.3 L245.3 184.5 L244.8 183.6 L244.3 182.8 L243.9 181.9 L243.4 181.1 L242.9 180.2 L242.4 179.4 L241.9 178.5 L241.4 177.7 L241.0 176.8 L240.5 175.9 L240.0 175.1 L239.6 174.2 L239.1 173.3 L238.7 172.5 L238.2 171.6 L237.8 170.7 L237.3 169.8 L236.9 169.0 L236.4 168.1 L236.0 167.2 L235.6 166.3 L235.1 165.4 L234.7 164.6 L234.3 163.7 L233.8 162.8 L233.4 161.9 L233.0 161.0 L232.6 160.1 L232.2 159.2 L231.8 158.3 L231.3 157.4 L230.9 156.6 L230.5 155.7 L230.1 154.8 L229.7 153.9 L229.3 153.0 L228.9 152.1 L228.5 151.2 L228.1 150.3 L227.6 149.4 L227.2 148.5 L226.8 147.6 L226.4 146.7 L226.0 145.8 L225.6 145.0 L225.2 144.1 L224.7 143.2 L224.3 142.3 L223.9 141.4 L223.5 140.5 L223.0 139.6 L222.6 138.7 L222.2 137.8 L221.8 137.0 L221.4 136.1 L221.0 135.2 L220.6 134.3 L220.2 133.4 L219.8 132.5 L219.4 131.6 L219.0 130.7 L218.7 129.7 L218.3 128.8 L218.0 127.9 L217.7 127.0 L217.3 126.0 L217.0 125.1 L216.7 124.2 L216.5 123.2 L216.2 122.3 L216.0 121.3 L215.7 120.4 L215.5 119.4 L215.3 118.5 L215.0 117.5 L214.8 116.6 L214.6 115.6 L214.4 114.6 L214.1 113.7 L213.9 112.7 L213.7 111.8 L213.4 110.8 L213.2 109.9 L212.9 108.9 L212.6 108.0 L212.4 107.0 L212.0 106.0 L211.7 105.0 L211.4 104.0 L211.0 103.0 L210.6 101.9 L210.2 100.9 L209.8 99.8 L209.3 98.7 L208.9 97.6 L208.5 96.5 L208.0 95.4 L207.6 94.3 L207.1 93.2 L206.7 92.1 L206.2 91.0 L205.8 89.9 L205.4 88.8 L204.9 87.8 L204.5 86.8 L204.1 85.7 L203.8 84.8 L203.4 83.8 L203.1 82.8 L202.7 82.4 L202.3 81.9 L201.9 81.4 L201.5 80.9 L201.1 80.4 L200.7 80.0 L200.3 79.5 L199.9 79.0 L199.5 78.5 L199.1 78.0 L198.6 77.5 L198.2 77.0 L197.8 76.6 L197.4 76.1 L197.0 75.6 L196.5 75.1 L196.1 74.6 L195.7 74.1 L195.3 73.6 L194.8 73.1 L194.5 72.6 L194.2 72.1 L193.9 71.5 L193.6 70.9 L193.3 70.4 L193.0 69.8 L192.7 69.2 L192.4 68.6 L192.1 68.0 L191.8 67.4 L191.5 66.8 L191.2 66.2 L190.9 65.5 L190.7 64.9 L190.4 64.3 L190.1 63.6 L189.8 63.0 L189.6 62.3 L189.3 61.6 L189.0 61.0 L188.8 60.3 L188.5 59.6 L188.2 58.9 L188.0 58.3 L187.7 57.6 L187.4 56.9 L187.1 56.2 L186.8 55.5 L186.5 54.8 L186.2 54.1 L185.9 53.4 L185.6 52.7 L185.2 52.1 L184.8 51.5 L184.4 50.9 L183.9 50.3 L183.5 49.7 L183.1 49.0 L182.6 48.4 L182.2 47.8 L181.8 47.2 L181.2 46.7 L180.7 46.2 L180.1 45.8 L179.6 45.3 L179.0 44.8 L178.5 44.4 L177.9 43.9 L177.3 43.5 L176.7 43.0 L176.1 42.6 L175.5 42.2 L174.9 41.8 L174.3 41.4 L173.7 41.0 L173.1 40.6 L172.5 40.2 L171.8 39.9 L171.2 39.5 L170.6 39.2 L169.9 38.8 L169.3 38.4 L168.7 38.1 L168.0 37.8 L167.4 37.4 L166.7 37.1 L166.1 36.8 L165.4 36.5 L164.8 36.2 L164.1 36.0 L163.4 35.8 L162.7 35.6 L162.1 35.4 L161.4 35.3 L160.7 35.1 L160.0 34.9 L159.3 34.7 L158.7 34.6 L158.0 34.4 L157.3 34.2 L156.6 34.1 L155.9 33.9 L155.2 33.7 L154.6 33.6 L153.9 33.4 L153.2 33.3 L152.5 33.2 L151.8 33.0 L151.1 32.9 L150.4 32.8 L149.7 32.6 L149.0 32.5 L148.3 32.4 L147.6 32.4 L146.9 32.3 L146.2 32.2 L145.4 32.2 L144.7 32.1 L144.0 32.1 L143.3 32.1 L142.6 32.1 L141.9 32.1 L141.2 32.1 L140.4 32.1 L139.7 32.1 L139.0 32.1 L138.3 32.2 L137.5 32.2 L136.8 32.2 L136.1 32.3 L135.3 32.3 L134.6 32.4 L133.9 32.5 L133.1 32.6 L132.4 32.7 L131.7 32.9 L130.9 33.0 L130.2 33.2 L129.5 33.3 L128.7 33.5 L128.0 33.7 L127.3 33.9 L126.5 34.1 L125.8 34.4 L125.1 34.6 L124.3 34.8 L123.6 35.0 L122.9 35.2 L122.1 35.5 L121.4 35.7 L120.7 35.9 L120.0 36.2 L119.2 36.4 L118.5 36.7 L117.8 37.0 L117.1 37.2 L116.4 37.5 L115.7 37.8 L115.0 38.1" fill="none" stroke="#000000" stroke-width="1.1" stroke-dasharray="8.5 2.6 1 2.6"/>
<path d="M352.4 219.7 L351.5 220.1 L350.7 220.4 L349.8 220.7 L348.9 221.1 L348.0 221.4 L347.2 221.7 L346.3 222.0 L345.4 222.2 L344.5 222.5 L343.6 222.8 L342.7 223.0 L341.8 223.2 L340.9 223.5 L340.0 223.7 L339.0 223.9 L338.1 224.0 L337.2 224.2 L336.3 224.4 L335.4 224.5 L334.4 224.6 L333.5 224.7 L332.6 224.8 L331.6 224.9 L330.7 224.9 L329.8 225.0 L328.8 225.0 L327.9 225.0 L327.0 225.0 L326.0 225.0 L325.1 224.9 L324.2 224.8 L323.2 224.8 L322.3 224.7 L321.4 224.6 L320.5 224.4 L319.5 224.3 L318.6 224.2 L317.7 224.0 L316.8 223.9 L315.9 223.7 L314.9 223.5 L314.0 223.3 L313.1 223.1 L312.2 222.9 L311.3 222.7 L310.4 222.5 L309.5 222.3 L308.6 222.1 L307.6 221.9 L306.7 221.7 L305.8 221.5 L304.9 221.2 L304.0 221.0 L303.1 220.7 L302.2 220.5 L301.3 220.2 L300.4 219.9 L299.6 219.6 L298.7 219.2 L297.8 218.9 L297.0 218.5 L296.1 218.2 L295.2 217.8 L294.4 217.4 L293.5 217.0 L292.7 216.6 L291.9 216.2 L291.0 215.8 L290.2 215.4 L289.4 214.9 L288.6 214.5 L287.7 214.0 L286.9 213.6 L286.1 213.1 L285.3 212.7 L284.5 212.2 L283.7 211.7 L282.9 211.2 L282.1 210.7 L281.3 210.2 L280.5 209.7 L279.8 209.2 L279.0 208.6 L278.3 208.1 L277.5 207.5 L276.8 206.9 L276.0 206.3 L275.3 205.8 L274.6 205.2 L273.9 204.6 L273.2 204.0 L272.4 203.4 L271.7 202.7 L271.0 202.1 L270.4 201.5 L269.7 200.9 L269.0 200.2 L268.3 199.6 L267.6 198.9 L267.0 198.3 L266.3 197.6 L265.7 196.9 L265.0 196.3 L264.4 195.6 L263.8 194.9 L263.1 194.2 L262.5 193.5 L261.9 192.8 L261.3 192.1 L260.7 191.4 L260.1 190.7 L259.5 189.9 L258.9 189.2 L258.3 188.5 L257.7 187.8 L257.1 187.0 L256.5 186.3 L256.0 185.6 L255.4 184.8 L254.8 184.1 L254.3 183.4 L253.7 182.6 L253.1 181.9 L252.6 181.1 L252.0 180.4 L251.4 179.6 L250.9 178.9 L250.3 178.1 L249.8 177.4 L249.2 176.6 L248.7 175.9 L248.1 175.1 L247.5 174.4 L247.0 173.6 L246.4 172.9 L245.9 172.1 L245.3 171.4 L244.8 170.6 L244.2 169.9 L243.7 169.1 L243.1 168.3 L242.6 167.6 L242.1 166.8 L241.5 166.0 L241.0 165.3 L240.5 164.5 L239.9 163.7 L239.4 163.0 L238.9 162.2 L238.4 161.4 L237.8 160.6 L237.3 159.9 L236.8 159.1 L236.3 158.3 L235.8 157.5 L235.3 156.7 L234.8 155.9 L234.3 155.2 L233.8 154.4 L233.3 153.6 L232.8 152.8 L232.3 152.0 L231.9 151.2 L231.4 150.4 L230.9 149.6 L230.4 148.8 L230.0 147.9 L229.5 147.1 L229.0 146.3 L228.6 145.5 L228.1 144.7 L227.7 143.9 L227.2 143.1 L226.8 142.2 L226.3 141.4 L225.9 140.6 L225.4 139.8 L225.0 138.9 L224.6 138.1 L224.1 137.3 L223.7 136.5 L223.3 135.6 L222.9 134.8 L222.5 133.9 L222.1 133.1 L221.7 132.3 L221.3 131.4 L220.9 130.6 L220.5 129.7 L220.1 128.9 L219.7 128.0 L219.4 127.1 L219.0 126.3 L218.7 125.4 L218.3 124.5 L218.0 123.7 L217.7 122.8 L217.3 121.9 L217.0 121.0 L216.7 120.2 L216.4 119.3 L216.1 118.4 L215.9 117.5 L215.6 116.6 L215.3 115.7 L215.0 114.8 L214.7 113.9 L214.5 113.0 L214.2 112.1 L213.9 111.3 L213.6 110.4 L213.3 109.5 L213.1 108.6 L212.8 107.7 L212.5 106.8 L212.2 105.9 L211.9 105.0 L211.6 104.0 L211.2 103.0 L210.8 102.0 L210.4 101.0 L210.0 99.9 L209.6 98.9 L209.1 97.8 L208.6 96.8 L208.2 95.7 L207.7 94.6 L207.2 93.6 L206.7 92.5 L206.2 91.4 L205.7 90.4 L205.3 89.3 L204.8 88.3 L204.4 87.3 L203.9 86.3 L203.5 85.3 L203.1 84.4 L202.8 83.5 L202.4 82.6 L202.0 82.1 L201.6 81.7 L201.2 81.3 L200.7 80.9 L200.3 80.4 L199.8 80.0 L199.4 79.6 L198.9 79.1 L198.5 78.7 L198.0 78.3 L197.6 77.8 L197.1 77.4 L196.6 77.0 L196.2 76.5 L195.7 76.1 L195.2 75.7 L194.8 75.2 L194.3 74.8 L193.8 74.4 L193.3 73.9 L193.0 73.5 L192.6 72.9 L192.3 72.4 L192.0 71.9 L191.7 71.3 L191.4 70.8 L191.1 70.2 L190.8 69.7 L190.5 69.1 L190.2 68.5 L189.9 67.9 L189.6 67.3 L189.4 66.7 L189.1 66.1 L188.8 65.4 L188.6 64.8 L188.3 64.1 L188.1 63.5 L187.8 62.8 L187.6 62.2 L187.4 61.5 L187.1 60.8 L186.9 60.1 L186.6 59.4 L186.4 58.8 L186.1 58.1 L185.8 57.4 L185.6 56.7 L185.3 55.9 L185.0 55.2 L184.8 54.5 L184.5 53.7 L184.1 53.1 L183.7 52.5 L183.3 51.9 L182.9 51.3 L182.5 50.6 L182.1 50.0 L181.7 49.4 L181.3 48.8 L180.8 48.2 L180.3 47.7 L179.8 47.2 L179.2 46.7 L178.6 46.3 L178.1 45.8 L177.5 45.4 L177.0 44.9 L176.4 44.5 L175.8 44.0 L175.2 43.6 L174.6 43.2 L174.0 42.8 L173.4 42.4 L172.8 42.0 L172.2 41.6 L171.6 41.2 L170.9 40.9 L170.3 40.5 L169.7 40.1 L169.1 39.7 L168.5 39.4 L167.8 39.0 L167.2 38.6 L166.6 38.3 L165.9 37.9 L165.3 37.6 L164.6 37.3 L164.0 37.0 L163.3 36.7 L162.7 36.5 L162.0 36.3 L161.4 36.0 L160.7 35.8 L160.0 35.6 L159.4 35.4 L158.7 35.2 L158.0 35.0 L157.4 34.8 L156.7 34.6 L156.0 34.4 L155.3 34.2 L154.7 34.0 L154.0 33.8 L153.3 33.6 L152.6 33.4 L151.9 33.3 L151.2 33.1 L150.5 32.9 L149.8 32.8 L149.2 32.6 L148.5 32.5 L147.8 32.3 L147.1 32.2 L146.3 32.1 L145.6 32.0 L144.9 31.9 L144.2 31.9 L143.5 31.8 L142.8 31.8 L142.1 31.7 L141.4 31.7 L140.6 31.7 L139.9 31.7 L139.2 31.7 L138.4 31.7 L137.7 31.7 L137.0 31.7 L136.2 31.7 L135.5 31.8 L134.8 31.8 L134.0 31.9 L133.3 31.9 L132.5 32.0 L131.8 32.2 L131.0 32.3 L130.3 32.4 L129.5 32.6 L128.8 32.8 L128.0 33.0 L127.3 33.2 L126.5 33.4 L125.8 33.6 L125.0 33.8 L124.3 34.0 L123.5 34.2 L122.8 34.5 L122.0 34.7 L121.3 34.9 L120.6 35.1 L119.8 35.4 L119.1 35.6 L118.3 35.9 L117.6 36.2 L116.9 36.4 L116.2 36.7 L115.4 37.0 L114.7 37.3 L114.0 37.6" fill="none" stroke="#000000" stroke-width="1.1" stroke-dasharray="5 2.5 1 2.5 1 2.5"/>
<path d="M357.2 203.8 L356.4 204.1 L355.5 204.4 L354.7 204.7 L353.8 205.0 L353.0 205.3 L352.1 205.6 L351.2 205.8 L350.4 206.1 L349.5 206.4 L348.7 206.6 L347.8 206.9 L346.9 207.1 L346.0 207.3 L345.2 207.5 L344.3 207.7 L343.4 207.9 L342.5 208.1 L341.6 208.3 L340.8 208.4 L339.9 208.6 L339.0 208.7 L338.1 208.8 L337.2 208.9 L336.3 209.0 L335.4 209.1 L334.5 209.2 L333.6 209.2 L332.7 209.3 L331.8 209.3 L330.9 209.3 L330.0 209.3 L329.1 209.3 L328.2 209.3 L327.3 209.2 L326.4 209.2 L325.5 209.1 L324.6 209.1 L323.7 209.0 L322.8 209.0 L321.9 208.9 L321.0 208.8 L320.1 208.7 L319.2 208.6 L318.3 208.6 L317.4 208.5 L316.5 208.4 L315.6 208.2 L314.7 208.1 L313.8 208.0 L312.9 207.9 L312.0 207.8 L311.1 207.7 L310.3 207.5 L309.4 207.4 L308.5 207.2 L307.6 207.1 L306.7 206.9 L305.8 206.6 L305.0 206.4 L304.1 206.1 L303.3 205.9 L302.4 205.6 L301.6 205.3 L300.7 204.9 L299.9 204.6 L299.0 204.3 L298.2 203.9 L297.4 203.6 L296.6 203.2 L295.7 202.8 L294.9 202.4 L294.1 202.0 L293.3 201.7 L292.5 201.3 L291.7 200.9 L290.9 200.4 L290.1 200.0 L289.3 199.6 L288.5 199.2 L287.7 198.7 L286.9 198.3 L286.2 197.8 L285.4 197.3 L284.7 196.8 L283.9 196.3 L283.2 195.8 L282.5 195.3 L281.7 194.7 L281.0 194.2 L280.3 193.6 L279.6 193.1 L278.9 192.5 L278.2 191.9 L277.5 191.4 L276.8 190.8 L276.1 190.2 L275.4 189.6 L274.7 189.0 L274.1 188.4 L273.4 187.9 L272.7 187.3 L272.0 186.7 L271.3 186.1 L270.6 185.5 L269.9 184.9 L269.2 184.4 L268.6 183.8 L267.9 183.2 L267.2 182.6 L266.5 182.0 L265.9 181.4 L265.2 180.8 L264.5 180.2 L263.9 179.6 L263.2 179.0 L262.5 178.3 L261.9 177.7 L261.2 177.1 L260.6 176.5 L259.9 175.8 L259.3 175.2 L258.6 174.6 L258.0 174.0 L257.4 173.3 L256.7 172.7 L256.1 172.1 L255.4 171.4 L254.8 170.8 L254.2 170.2 L253.5 169.5 L252.9 168.9 L252.2 168.3 L251.6 167.6 L251.0 167.0 L250.3 166.4 L249.7 165.7 L249.0 165.1 L248.4 164.5 L247.7 163.8 L247.1 163.2 L246.5 162.6 L245.8 161.9 L245.2 161.3 L244.6 160.6 L243.9 160.0 L243.3 159.4 L242.7 158.7 L242.0 158.1 L241.4 157.4 L240.8 156.7 L240.2 156.1 L239.6 155.4 L239.0 154.7 L238.4 154.1 L237.8 153.4 L237.2 152.7 L236.6 152.0 L236.1 151.3 L235.5 150.6 L234.9 149.9 L234.4 149.2 L233.8 148.5 L233.3 147.7 L232.8 147.0 L232.3 146.3 L231.8 145.5 L231.2 144.8 L230.7 144.1 L230.2 143.3 L229.7 142.5 L229.3 141.8 L228.8 141.0 L228.3 140.3 L227.8 139.5 L227.3 138.7 L226.9 138.0 L226.4 137.2 L226.0 136.4 L225.5 135.6 L225.1 134.8 L224.6 134.1 L224.2 133.3 L223.8 132.5 L223.3 131.7 L222.9 130.9 L222.5 130.1 L222.1 129.3 L221.7 128.5 L221.3 127.7 L220.9 126.9 L220.5 126.0 L220.1 125.2 L219.7 124.4 L219.4 123.6 L219.0 122.8 L218.6 121.9 L218.3 121.1 L217.9 120.3 L217.6 119.5 L217.2 118.6 L216.9 117.8 L216.6 116.9 L216.3 116.1 L215.9 115.3 L215.6 114.4 L215.3 113.6 L215.0 112.7 L214.7 111.9 L214.4 111.0 L214.1 110.2 L213.8 109.3 L213.5 108.5 L213.2 107.6 L212.9 106.8 L212.6 105.9 L212.3 105.1 L212.0 104.2 L211.6 103.2 L211.2 102.3 L210.8 101.3 L210.4 100.3 L209.9 99.3 L209.5 98.2 L209.0 97.2 L208.4 96.2 L207.9 95.1 L207.4 94.1 L206.9 93.0 L206.3 92.0 L205.8 90.9 L205.3 89.9 L204.8 88.9 L204.3 87.9 L203.8 86.9 L203.3 85.9 L202.9 85.0 L202.5 84.0 L202.1 83.2 L201.8 82.3 L201.3 81.9 L200.9 81.6 L200.4 81.2 L199.9 80.8 L199.4 80.4 L198.9 80.1 L198.5 79.7 L198.0 79.3 L197.5 78.9 L197.0 78.5 L196.5 78.2 L196.0 77.8 L195.4 77.4 L194.9 77.0 L194.4 76.6 L193.9 76.3 L193.4 75.9 L192.9 75.5 L192.4 75.1 L191.8 74.7 L191.4 74.3 L191.1 73.8 L190.8 73.3 L190.4 72.8 L190.1 72.3 L189.8 71.8 L189.5 71.3 L189.2 70.7 L188.9 70.2 L188.6 69.6 L188.3 69.0 L188.1 68.4 L187.8 67.8 L187.6 67.2 L187.3 66.6 L187.1 66.0 L186.8 65.3 L186.6 64.7 L186.4 64.0 L186.2 63.4 L186.0 62.7 L185.8 62.0 L185.5 61.3 L185.3 60.6 L185.1 59.9 L184.9 59.2 L184.6 58.5 L184.4 57.8 L184.2 57.0 L184.0 56.3 L183.7 55.5 L183.5 54.8 L183.2 54.1 L182.8 53.5 L182.4 52.9 L182.0 52.3 L181.6 51.6 L181.2 51.0 L180.8 50.4 L180.4 49.7 L180.0 49.1 L179.5 48.6 L178.9 48.2 L178.4 47.7 L177.8 47.3 L177.2 46.8 L176.7 46.4 L176.1 45.9 L175.5 45.5 L175.0 45.1 L174.4 44.7 L173.8 44.2 L173.2 43.8 L172.6 43.4 L172.0 43.0 L171.4 42.6 L170.8 42.3 L170.2 41.9 L169.5 41.5 L168.9 41.1 L168.3 40.7 L167.7 40.4 L167.1 40.0 L166.5 39.6 L165.9 39.2 L165.2 38.9 L164.6 38.5 L164.0 38.2 L163.3 37.9 L162.7 37.6 L162.1 37.3 L161.4 37.1 L160.7 36.9 L160.1 36.6 L159.4 36.4 L158.8 36.2 L158.1 35.9 L157.5 35.7 L156.8 35.5 L156.2 35.2 L155.5 35.0 L154.8 34.8 L154.2 34.6 L153.5 34.4 L152.8 34.2 L152.1 34.0 L151.5 33.8 L150.8 33.6 L150.1 33.4 L149.4 33.2 L148.7 33.0 L148.0 32.8 L147.4 32.7 L146.7 32.6 L146.0 32.4 L145.3 32.3 L144.6 32.2 L143.8 32.1 L143.1 32.0 L142.4 32.0 L141.7 31.9 L141.0 31.9 L140.3 31.8 L139.5 31.8 L138.8 31.8 L138.1 31.8 L137.4 31.8 L136.6 31.8 L135.9 31.8 L135.1 31.8 L134.4 31.8 L133.7 31.9 L132.9 32.0 L132.2 32.1 L131.4 32.2 L130.7 32.3 L129.9 32.4 L129.1 32.6 L128.4 32.8 L127.6 33.0 L126.9 33.2 L126.1 33.4 L125.4 33.6 L124.6 33.8 L123.9 34.0 L123.1 34.2 L122.4 34.5 L121.6 34.7 L120.9 34.9 L120.1 35.1 L119.4 35.4 L118.6 35.6 L117.9 35.9 L117.1 36.2 L116.4 36.4 L115.7 36.7 L115.0 37.0 L114.2 37.3 L113.5 37.6" fill="none" stroke="#000000" stroke-width="1.1" stroke-dasharray="6 2.5 6 2.5 1 2.5"/>
<path d="M361.4 186.4 L360.7 186.9 L359.9 187.3 L359.2 187.8 L358.4 188.2 L357.6 188.6 L356.9 189.0 L356.1 189.4 L355.3 189.8 L354.5 190.2 L353.8 190.6 L353.0 190.9 L352.2 191.3 L351.3 191.6 L350.5 191.9 L349.7 192.2 L348.9 192.5 L348.0 192.7 L347.2 192.9 L346.4 193.2 L345.5 193.4 L344.7 193.6 L343.8 193.8 L343.0 194.0 L342.1 194.2 L341.3 194.4 L340.4 194.5 L339.5 194.7 L338.7 194.9 L337.8 195.0 L337.0 195.1 L336.1 195.2 L335.2 195.3 L334.4 195.4 L333.5 195.5 L332.6 195.5 L331.7 195.5 L330.9 195.5 L330.0 195.4 L329.1 195.4 L328.3 195.3 L327.4 195.2 L326.5 195.1 L325.7 195.0 L324.8 194.9 L323.9 194.8 L323.1 194.6 L322.2 194.4 L321.4 194.3 L320.5 194.1 L319.7 193.9 L318.8 193.8 L317.9 193.6 L317.1 193.4 L316.2 193.2 L315.4 193.0 L314.5 192.8 L313.7 192.6 L312.8 192.5 L312.0 192.3 L311.1 192.1 L310.3 191.9 L309.4 191.7 L308.6 191.5 L307.7 191.2 L306.9 191.0 L306.1 190.8 L305.2 190.5 L304.4 190.3 L303.6 190.0 L302.7 189.8 L301.9 189.5 L301.1 189.3 L300.2 189.0 L299.4 188.7 L298.6 188.4 L297.8 188.1 L296.9 187.8 L296.1 187.5 L295.3 187.2 L294.5 186.9 L293.7 186.6 L292.9 186.3 L292.1 185.9 L291.2 185.6 L290.4 185.3 L289.6 184.9 L288.8 184.6 L288.0 184.2 L287.2 183.9 L286.4 183.5 L285.7 183.1 L284.9 182.7 L284.1 182.3 L283.3 181.9 L282.6 181.5 L281.8 181.1 L281.0 180.7 L280.3 180.2 L279.5 179.8 L278.8 179.3 L278.1 178.9 L277.3 178.4 L276.6 178.0 L275.8 177.5 L275.1 177.0 L274.4 176.5 L273.7 176.0 L272.9 175.6 L272.2 175.1 L271.5 174.6 L270.8 174.1 L270.1 173.6 L269.3 173.1 L268.6 172.6 L267.9 172.1 L267.2 171.6 L266.5 171.1 L265.8 170.6 L265.1 170.1 L264.4 169.5 L263.7 169.0 L262.9 168.5 L262.2 168.0 L261.5 167.5 L260.8 167.0 L260.2 166.4 L259.5 165.9 L258.8 165.4 L258.1 164.8 L257.4 164.3 L256.7 163.7 L256.1 163.2 L255.4 162.6 L254.8 162.0 L254.1 161.4 L253.5 160.9 L252.8 160.3 L252.2 159.7 L251.5 159.1 L250.9 158.4 L250.3 157.8 L249.7 157.2 L249.1 156.6 L248.5 155.9 L247.9 155.3 L247.3 154.6 L246.8 154.0 L246.2 153.3 L245.6 152.7 L245.0 152.0 L244.5 151.3 L243.9 150.7 L243.4 150.0 L242.8 149.3 L242.3 148.6 L241.7 147.9 L241.2 147.3 L240.7 146.6 L240.1 145.9 L239.6 145.2 L239.1 144.5 L238.6 143.8 L238.1 143.1 L237.5 142.4 L237.0 141.7 L236.5 140.9 L236.0 140.2 L235.5 139.5 L235.1 138.8 L234.6 138.1 L234.1 137.3 L233.6 136.6 L233.1 135.9 L232.6 135.2 L232.2 134.4 L231.7 133.7 L231.2 133.0 L230.7 132.2 L230.2 131.5 L229.8 130.8 L229.3 130.0 L228.8 129.3 L228.4 128.6 L227.9 127.8 L227.4 127.1 L226.9 126.4 L226.5 125.6 L226.0 124.9 L225.6 124.2 L225.1 123.4 L224.6 122.7 L224.2 121.9 L223.7 121.2 L223.3 120.4 L222.8 119.7 L222.4 119.0 L221.9 118.2 L221.5 117.5 L221.0 116.7 L220.6 116.0 L220.1 115.2 L219.7 114.5 L219.3 113.7 L218.8 112.9 L218.4 112.2 L218.0 111.4 L217.5 110.7 L217.1 109.9 L216.7 109.1 L216.3 108.4 L215.9 107.6 L215.4 106.8 L215.0 106.1 L214.6 105.3 L214.2 104.5 L213.8 103.7 L213.3 102.9 L212.8 102.0 L212.3 101.2 L211.7 100.2 L211.1 99.3 L210.5 98.3 L209.9 97.4 L209.2 96.4 L208.6 95.3 L207.9 94.3 L207.2 93.3 L206.6 92.3 L205.9 91.3 L205.3 90.2 L204.7 89.2 L204.1 88.2 L203.5 87.2 L203.0 86.3 L202.4 85.3 L202.0 84.4 L201.5 83.5 L201.1 82.6 L200.8 81.8 L200.3 81.4 L199.9 81.1 L199.4 80.7 L198.9 80.4 L198.4 80.0 L197.9 79.7 L197.4 79.3 L197.0 79.0 L196.5 78.6 L196.0 78.3 L195.5 77.9 L195.0 77.6 L194.5 77.2 L194.0 76.9 L193.5 76.5 L193.0 76.1 L192.5 75.8 L192.0 75.4 L191.5 75.1 L191.0 74.7 L190.6 74.3 L190.2 73.9 L189.9 73.5 L189.5 73.0 L189.2 72.6 L188.8 72.1 L188.5 71.7 L188.2 71.2 L187.8 70.7 L187.5 70.2 L187.2 69.7 L186.9 69.2 L186.6 68.6 L186.4 68.0 L186.1 67.4 L185.9 66.8 L185.7 66.2 L185.5 65.5 L185.3 64.9 L185.1 64.2 L184.9 63.6 L184.6 62.9 L184.4 62.2 L184.2 61.5 L184.0 60.9 L183.7 60.2 L183.5 59.5 L183.2 58.8 L183.0 58.1 L182.8 57.3 L182.5 56.6 L182.3 55.8 L181.9 55.2 L181.6 54.6 L181.2 53.9 L180.8 53.3 L180.4 52.7 L180.0 52.1 L179.7 51.4 L179.3 50.8 L178.9 50.1 L178.4 49.7 L177.8 49.2 L177.2 48.8 L176.7 48.4 L176.1 47.9 L175.5 47.5 L174.9 47.1 L174.3 46.7 L173.7 46.3 L173.1 45.9 L172.5 45.5 L171.9 45.1 L171.3 44.7 L170.7 44.3 L170.1 44.0 L169.5 43.6 L168.8 43.2 L168.2 42.9 L167.6 42.5 L166.9 42.2 L166.3 41.8 L165.7 41.4 L165.0 41.1 L164.4 40.7 L163.7 40.4 L163.1 40.0 L162.5 39.7 L161.8 39.4 L161.1 39.1 L160.5 38.9 L159.8 38.7 L159.1 38.4 L158.5 38.2 L157.8 38.0 L157.1 37.7 L156.4 37.5 L155.8 37.3 L155.1 37.0 L154.4 36.8 L153.7 36.6 L153.0 36.4 L152.4 36.2 L151.7 35.9 L151.0 35.7 L150.3 35.5 L149.6 35.3 L148.9 35.1 L148.2 34.9 L147.5 34.8 L146.8 34.6 L146.1 34.4 L145.4 34.3 L144.7 34.1 L144.0 34.0 L143.2 33.9 L142.5 33.8 L141.8 33.7 L141.1 33.6 L140.3 33.5 L139.6 33.5 L138.9 33.4 L138.2 33.4 L137.4 33.3 L136.7 33.3 L135.9 33.3 L135.2 33.3 L134.4 33.3 L133.7 33.3 L132.9 33.3 L132.2 33.4 L131.4 33.4 L130.7 33.5 L129.9 33.6 L129.2 33.7 L128.4 33.8 L127.6 34.0 L126.9 34.2 L126.1 34.4 L125.4 34.6 L124.6 34.8 L123.8 35.1 L123.1 35.3 L122.3 35.6 L121.5 35.8 L120.8 36.1 L120.0 36.4 L119.2 36.6 L118.5 36.9 L117.7 37.2 L117.0 37.4 L116.2 37.7 L115.5 38.0 L114.7 38.3 L114.0 38.6 L113.2 38.9 L112.5 39.1 L111.7 39.4 L111.0 39.7" fill="none" stroke="#0000ff" stroke-width="1.1"/>
<path d="M365.3 174.4 L364.6 174.8 L363.8 175.2 L363.1 175.6 L362.3 175.9 L361.5 176.3 L360.8 176.7 L360.0 177.0 L359.2 177.3 L358.4 177.7 L357.6 178.0 L356.8 178.3 L356.0 178.6 L355.2 178.9 L354.4 179.2 L353.6 179.4 L352.7 179.7 L351.9 179.9 L351.1 180.1 L350.2 180.3 L349.4 180.5 L348.5 180.7 L347.7 180.9 L346.9 181.0 L346.0 181.2 L345.2 181.4 L344.3 181.6 L343.5 181.7 L342.7 181.9 L341.8 182.0 L341.0 182.2 L340.1 182.3 L339.2 182.4 L338.4 182.5 L337.5 182.6 L336.7 182.6 L335.8 182.7 L335.0 182.7 L334.1 182.7 L333.2 182.6 L332.4 182.6 L331.5 182.6 L330.7 182.5 L329.8 182.4 L329.0 182.3 L328.1 182.2 L327.3 182.1 L326.4 182.0 L325.6 181.9 L324.7 181.8 L323.9 181.6 L323.0 181.5 L322.2 181.3 L321.4 181.2 L320.5 181.0 L319.7 180.9 L318.8 180.7 L318.0 180.6 L317.1 180.4 L316.3 180.2 L315.5 180.1 L314.6 179.9 L313.8 179.8 L312.9 179.6 L312.1 179.4 L311.3 179.2 L310.4 179.0 L309.6 178.8 L308.8 178.6 L307.9 178.4 L307.1 178.2 L306.3 178.0 L305.5 177.8 L304.7 177.5 L303.8 177.3 L303.0 177.1 L302.2 176.8 L301.4 176.6 L300.6 176.3 L299.8 176.1 L298.9 175.8 L298.1 175.6 L297.3 175.3 L296.5 175.0 L295.7 174.8 L294.9 174.5 L294.1 174.2 L293.3 173.9 L292.5 173.6 L291.7 173.3 L290.9 173.0 L290.1 172.7 L289.4 172.3 L288.6 172.0 L287.8 171.7 L287.0 171.3 L286.3 170.9 L285.5 170.6 L284.7 170.2 L284.0 169.8 L283.2 169.4 L282.5 169.0 L281.7 168.6 L281.0 168.2 L280.3 167.8 L279.5 167.4 L278.8 167.0 L278.1 166.5 L277.3 166.1 L276.6 165.7 L275.9 165.2 L275.1 164.8 L274.4 164.4 L273.7 163.9 L273.0 163.5 L272.2 163.1 L271.5 162.6 L270.8 162.2 L270.1 161.7 L269.4 161.3 L268.6 160.8 L267.9 160.4 L267.2 160.0 L266.5 159.5 L265.8 159.0 L265.1 158.6 L264.4 158.1 L263.7 157.6 L263.0 157.2 L262.3 156.7 L261.6 156.2 L260.9 155.7 L260.2 155.2 L259.5 154.7 L258.9 154.2 L258.2 153.7 L257.5 153.2 L256.9 152.6 L256.2 152.1 L255.6 151.6 L254.9 151.0 L254.3 150.5 L253.7 149.9 L253.0 149.4 L252.4 148.8 L251.8 148.2 L251.2 147.7 L250.6 147.1 L250.0 146.5 L249.4 145.9 L248.8 145.3 L248.2 144.7 L247.6 144.1 L247.0 143.5 L246.4 142.9 L245.9 142.3 L245.3 141.7 L244.7 141.1 L244.1 140.5 L243.6 139.9 L243.0 139.3 L242.5 138.6 L241.9 138.0 L241.4 137.4 L240.8 136.7 L240.3 136.1 L239.7 135.5 L239.2 134.8 L238.7 134.2 L238.1 133.6 L237.6 132.9 L237.1 132.3 L236.6 131.6 L236.0 131.0 L235.5 130.3 L235.0 129.7 L234.5 129.0 L234.0 128.4 L233.4 127.7 L232.9 127.1 L232.4 126.4 L231.9 125.8 L231.4 125.1 L230.9 124.5 L230.4 123.8 L229.9 123.1 L229.3 122.5 L228.8 121.8 L228.3 121.1 L227.8 120.5 L227.3 119.8 L226.8 119.1 L226.3 118.5 L225.8 117.8 L225.3 117.1 L224.9 116.5 L224.4 115.8 L223.9 115.1 L223.4 114.4 L222.9 113.7 L222.4 113.0 L222.0 112.4 L221.5 111.7 L221.0 111.0 L220.5 110.3 L220.1 109.6 L219.6 108.9 L219.1 108.2 L218.7 107.5 L218.2 106.8 L217.7 106.1 L217.3 105.5 L216.8 104.8 L216.4 104.1 L215.9 103.4 L215.5 102.7 L215.0 102.0 L214.5 101.2 L213.9 100.4 L213.3 99.6 L212.7 98.7 L212.0 97.9 L211.4 97.0 L210.7 96.1 L210.0 95.1 L209.2 94.2 L208.5 93.2 L207.8 92.3 L207.1 91.3 L206.3 90.4 L205.6 89.4 L204.9 88.5 L204.3 87.5 L203.6 86.6 L203.0 85.7 L202.4 84.9 L201.9 84.0 L201.4 83.2 L201.0 82.4 L200.6 81.7 L200.1 81.3 L199.6 81.0 L199.1 80.6 L198.6 80.3 L198.1 80.0 L197.6 79.6 L197.1 79.3 L196.6 78.9 L196.1 78.6 L195.6 78.3 L195.1 77.9 L194.6 77.6 L194.1 77.3 L193.6 76.9 L193.1 76.6 L192.6 76.2 L192.1 75.9 L191.6 75.6 L191.1 75.2 L190.5 74.9 L190.1 74.5 L189.7 74.1 L189.3 73.7 L188.9 73.3 L188.6 72.9 L188.2 72.5 L187.8 72.0 L187.4 71.6 L187.1 71.1 L186.7 70.7 L186.3 70.2 L186.0 69.7 L185.7 69.2 L185.4 68.7 L185.1 68.2 L184.8 67.6 L184.5 67.0 L184.2 66.5 L184.0 65.9 L183.7 65.3 L183.4 64.7 L183.2 64.1 L182.9 63.5 L182.6 62.9 L182.3 62.3 L182.0 61.7 L181.7 61.0 L181.4 60.4 L181.1 59.8 L180.8 59.1 L180.5 58.5 L180.2 57.8 L179.9 57.2 L179.5 56.6 L179.1 56.0 L178.7 55.4 L178.4 54.8 L178.0 54.2 L177.6 53.6 L177.2 52.9 L176.8 52.3 L176.3 51.9 L175.7 51.5 L175.1 51.1 L174.6 50.7 L174.0 50.2 L173.4 49.8 L172.9 49.4 L172.3 49.0 L171.7 48.6 L171.1 48.1 L170.6 47.7 L170.0 47.3 L169.4 46.9 L168.8 46.4 L168.3 46.0 L167.7 45.6 L167.1 45.2 L166.5 44.7 L166.0 44.3 L165.4 43.9 L164.8 43.4 L164.2 42.9 L163.7 42.5 L163.1 42.0 L162.5 41.6 L161.9 41.1 L161.3 40.7 L160.8 40.3 L160.2 39.9 L159.6 39.5 L159.0 39.1 L158.4 38.8 L157.8 38.4 L157.2 38.0 L156.5 37.7 L155.9 37.3 L155.3 36.9 L154.7 36.6 L154.1 36.2 L153.5 35.9 L152.8 35.5 L152.2 35.2 L151.6 34.8 L150.9 34.5 L150.3 34.1 L149.6 33.8 L149.0 33.5 L148.3 33.2 L147.6 32.8 L147.0 32.5 L146.3 32.3 L145.6 32.0 L144.9 31.7 L144.2 31.5 L143.6 31.3 L142.8 31.0 L142.1 30.8 L141.4 30.7 L140.7 30.5 L140.0 30.3 L139.3 30.2 L138.5 30.1 L137.8 30.0 L137.0 29.9 L136.3 29.8 L135.5 29.7 L134.8 29.6 L134.0 29.6 L133.2 29.6 L132.5 29.6 L131.7 29.6 L130.9 29.6 L130.1 29.7 L129.3 29.7 L128.5 29.9 L127.7 30.0 L126.9 30.1 L126.1 30.3 L125.3 30.5 L124.5 30.7 L123.7 30.9 L122.8 31.2 L122.0 31.4 L121.2 31.6 L120.4 31.9 L119.6 32.1 L118.8 32.4 L118.0 32.6 L117.2 32.9 L116.4 33.1 L115.6 33.4 L114.8 33.7 L114.0 34.0 L113.2 34.3 L112.4 34.6 L111.6 34.9 L110.8 35.2 L110.0 35.5" fill="none" stroke="#0000ff" stroke-width="1.1" stroke-dasharray="1 2.3"/>
<path d="M367.7 162.0 L367.0 162.3 L366.2 162.6 L365.4 163.0 L364.7 163.3 L363.9 163.6 L363.1 163.9 L362.4 164.2 L361.6 164.4 L360.8 164.7 L360.0 165.0 L359.2 165.2 L358.4 165.5 L357.7 165.7 L356.9 166.0 L356.0 166.2 L355.2 166.4 L354.4 166.6 L353.6 166.8 L352.8 167.0 L352.0 167.1 L351.2 167.3 L350.3 167.5 L349.5 167.7 L348.7 167.8 L347.9 168.0 L347.1 168.2 L346.2 168.3 L345.4 168.5 L344.6 168.7 L343.8 168.8 L342.9 168.9 L342.1 169.0 L341.3 169.1 L340.5 169.2 L339.6 169.3 L338.8 169.4 L338.0 169.4 L337.1 169.5 L336.3 169.5 L335.5 169.5 L334.6 169.5 L333.8 169.4 L333.0 169.4 L332.2 169.4 L331.3 169.3 L330.5 169.2 L329.7 169.2 L328.9 169.1 L328.0 169.0 L327.2 168.9 L326.4 168.8 L325.6 168.6 L324.7 168.5 L323.9 168.4 L323.1 168.3 L322.3 168.2 L321.4 168.1 L320.6 167.9 L319.8 167.8 L319.0 167.7 L318.2 167.6 L317.3 167.4 L316.5 167.3 L315.7 167.2 L314.9 167.0 L314.1 166.9 L313.3 166.7 L312.4 166.5 L311.6 166.4 L310.8 166.2 L310.0 166.0 L309.2 165.9 L308.4 165.7 L307.6 165.5 L306.8 165.3 L306.0 165.2 L305.2 165.0 L304.4 164.8 L303.6 164.6 L302.8 164.4 L302.0 164.2 L301.2 164.0 L300.4 163.8 L299.6 163.5 L298.8 163.3 L298.0 163.1 L297.2 162.9 L296.5 162.6 L295.7 162.4 L294.9 162.1 L294.1 161.9 L293.3 161.6 L292.6 161.3 L291.8 161.0 L291.0 160.7 L290.3 160.4 L289.5 160.1 L288.8 159.8 L288.0 159.5 L287.3 159.1 L286.5 158.8 L285.8 158.5 L285.0 158.1 L284.3 157.8 L283.5 157.4 L282.8 157.0 L282.1 156.7 L281.3 156.3 L280.6 156.0 L279.9 155.6 L279.2 155.2 L278.4 154.9 L277.7 154.5 L277.0 154.1 L276.2 153.7 L275.5 153.4 L274.8 153.0 L274.1 152.6 L273.4 152.2 L272.6 151.9 L271.9 151.5 L271.2 151.1 L270.5 150.7 L269.8 150.3 L269.0 149.9 L268.3 149.5 L267.6 149.1 L266.9 148.7 L266.2 148.3 L265.5 147.8 L264.8 147.4 L264.1 147.0 L263.5 146.6 L262.8 146.1 L262.1 145.7 L261.4 145.2 L260.7 144.8 L260.1 144.3 L259.4 143.8 L258.8 143.4 L258.1 142.9 L257.4 142.4 L256.8 141.9 L256.2 141.4 L255.5 140.9 L254.9 140.4 L254.3 139.9 L253.6 139.4 L253.0 138.9 L252.4 138.4 L251.8 137.9 L251.2 137.4 L250.6 136.9 L249.9 136.3 L249.3 135.8 L248.7 135.3 L248.1 134.8 L247.5 134.2 L246.9 133.7 L246.4 133.1 L245.8 132.6 L245.2 132.0 L244.6 131.5 L244.0 130.9 L243.5 130.4 L242.9 129.8 L242.3 129.3 L241.7 128.7 L241.2 128.2 L240.6 127.6 L240.0 127.0 L239.5 126.5 L238.9 125.9 L238.4 125.3 L237.8 124.8 L237.2 124.2 L236.7 123.6 L236.1 123.1 L235.6 122.5 L235.0 121.9 L234.5 121.3 L233.9 120.8 L233.4 120.2 L232.8 119.6 L232.3 119.0 L231.7 118.5 L231.2 117.9 L230.7 117.3 L230.1 116.7 L229.6 116.1 L229.0 115.5 L228.5 114.9 L228.0 114.3 L227.4 113.7 L226.9 113.1 L226.4 112.5 L225.9 111.9 L225.3 111.3 L224.8 110.7 L224.3 110.0 L223.8 109.4 L223.3 108.8 L222.8 108.2 L222.3 107.6 L221.7 107.0 L221.2 106.3 L220.7 105.7 L220.2 105.1 L219.7 104.5 L219.2 103.9 L218.7 103.2 L218.2 102.6 L217.7 102.0 L217.2 101.4 L216.7 100.8 L216.2 100.1 L215.6 99.4 L215.0 98.7 L214.4 98.0 L213.7 97.2 L213.0 96.4 L212.2 95.6 L211.5 94.7 L210.7 93.9 L209.9 93.0 L209.1 92.1 L208.3 91.2 L207.5 90.3 L206.8 89.5 L206.0 88.6 L205.2 87.7 L204.5 86.8 L203.8 86.0 L203.1 85.2 L202.5 84.4 L201.8 83.6 L201.3 82.9 L200.8 82.2 L200.3 81.5 L199.8 81.2 L199.3 80.9 L198.8 80.5 L198.3 80.2 L197.8 79.9 L197.3 79.6 L196.8 79.2 L196.3 78.9 L195.8 78.6 L195.3 78.3 L194.8 77.9 L194.3 77.6 L193.7 77.3 L193.2 77.0 L192.7 76.7 L192.2 76.3 L191.7 76.0 L191.2 75.7 L190.6 75.4 L190.1 75.1 L189.7 74.7 L189.2 74.4 L188.8 74.0 L188.4 73.6 L188.0 73.2 L187.6 72.8 L187.1 72.4 L186.7 72.0 L186.3 71.6 L185.9 71.2 L185.5 70.8 L185.1 70.3 L184.8 69.9 L184.4 69.4 L184.1 68.9 L183.8 68.4 L183.4 67.9 L183.1 67.4 L182.8 66.9 L182.4 66.4 L182.1 65.8 L181.8 65.3 L181.5 64.8 L181.1 64.2 L180.8 63.7 L180.4 63.2 L180.1 62.6 L179.7 62.1 L179.4 61.5 L179.0 60.9 L178.7 60.4 L178.3 59.8 L178.0 59.2 L177.6 58.6 L177.2 58.1 L176.8 57.5 L176.5 56.9 L176.1 56.3 L175.7 55.7 L175.3 55.1 L175.0 54.5 L174.4 54.1 L173.8 53.7 L173.2 53.4 L172.7 53.0 L172.1 52.6 L171.5 52.2 L171.0 51.8 L170.4 51.4 L169.8 51.0 L169.3 50.6 L168.7 50.2 L168.1 49.8 L167.6 49.4 L167.0 49.0 L166.4 48.6 L165.9 48.1 L165.3 47.7 L164.7 47.3 L164.2 46.9 L163.6 46.4 L163.1 46.0 L162.5 45.5 L162.0 45.1 L161.4 44.6 L160.8 44.1 L160.3 43.7 L159.7 43.2 L159.1 42.8 L158.6 42.4 L158.0 42.0 L157.4 41.6 L156.8 41.2 L156.3 40.8 L155.7 40.4 L155.1 40.0 L154.5 39.6 L153.9 39.2 L153.3 38.9 L152.7 38.5 L152.1 38.1 L151.5 37.7 L150.9 37.3 L150.2 37.0 L149.6 36.6 L149.0 36.2 L148.4 35.9 L147.7 35.5 L147.1 35.2 L146.4 34.8 L145.8 34.5 L145.1 34.2 L144.5 33.9 L143.8 33.6 L143.1 33.3 L142.4 33.1 L141.7 32.9 L141.0 32.6 L140.3 32.4 L139.6 32.2 L138.9 32.1 L138.2 31.9 L137.5 31.8 L136.7 31.6 L136.0 31.5 L135.3 31.4 L134.5 31.3 L133.8 31.2 L133.0 31.2 L132.2 31.1 L131.5 31.1 L130.7 31.1 L129.9 31.1 L129.1 31.1 L128.3 31.2 L127.5 31.3 L126.7 31.4 L125.9 31.6 L125.1 31.7 L124.3 31.9 L123.5 32.1 L122.7 32.3 L121.9 32.5 L121.0 32.8 L120.2 33.0 L119.4 33.2 L118.6 33.5 L117.8 33.7 L117.0 33.9 L116.2 34.2 L115.4 34.4 L114.6 34.7 L113.8 34.9 L113.0 35.2 L112.2 35.5 L111.4 35.8 L110.6 36.1 L109.8 36.4 L109.0 36.7" fill="none" stroke="#0000ff" stroke-width="1.1" stroke-dasharray="6 3"/>
<path d="M369.7 151.7 L368.9 152.0 L368.2 152.2 L367.4 152.5 L366.6 152.7 L365.9 153.0 L365.1 153.2 L364.3 153.5 L363.6 153.7 L362.8 154.0 L362.0 154.2 L361.2 154.4 L360.5 154.6 L359.7 154.8 L358.9 155.0 L358.1 155.2 L357.3 155.4 L356.5 155.6 L355.7 155.7 L354.9 155.9 L354.1 156.1 L353.3 156.2 L352.5 156.4 L351.7 156.6 L350.9 156.7 L350.1 156.9 L349.3 157.1 L348.5 157.2 L347.7 157.4 L346.9 157.5 L346.1 157.7 L345.3 157.8 L344.5 157.9 L343.7 158.1 L342.9 158.2 L342.1 158.3 L341.3 158.4 L340.5 158.4 L339.7 158.5 L338.8 158.5 L338.0 158.6 L337.2 158.6 L336.4 158.6 L335.6 158.6 L334.8 158.6 L334.0 158.6 L333.2 158.5 L332.4 158.5 L331.6 158.4 L330.8 158.4 L330.0 158.3 L329.1 158.2 L328.3 158.1 L327.5 158.0 L326.7 157.9 L325.9 157.8 L325.1 157.8 L324.3 157.7 L323.5 157.6 L322.7 157.5 L321.9 157.4 L321.1 157.3 L320.3 157.2 L319.5 157.1 L318.7 157.0 L317.9 156.9 L317.1 156.8 L316.3 156.6 L315.5 156.5 L314.7 156.4 L313.9 156.3 L313.1 156.1 L312.3 156.0 L311.5 155.9 L310.7 155.7 L309.9 155.6 L309.1 155.5 L308.3 155.3 L307.6 155.2 L306.8 155.0 L306.0 154.9 L305.2 154.7 L304.4 154.5 L303.6 154.4 L302.8 154.2 L302.1 154.1 L301.3 153.9 L300.5 153.7 L299.7 153.5 L299.0 153.3 L298.2 153.1 L297.4 152.9 L296.6 152.7 L295.9 152.4 L295.1 152.2 L294.4 151.9 L293.6 151.7 L292.8 151.4 L292.1 151.1 L291.3 150.9 L290.6 150.6 L289.9 150.3 L289.1 150.0 L288.4 149.7 L287.6 149.4 L286.9 149.1 L286.2 148.8 L285.4 148.5 L284.7 148.2 L284.0 147.9 L283.2 147.6 L282.5 147.3 L281.8 147.0 L281.0 146.6 L280.3 146.3 L279.6 146.0 L278.8 145.7 L278.1 145.4 L277.4 145.0 L276.7 144.7 L275.9 144.4 L275.2 144.1 L274.5 143.7 L273.8 143.4 L273.1 143.1 L272.3 142.7 L271.6 142.4 L270.9 142.0 L270.2 141.6 L269.5 141.3 L268.8 140.9 L268.1 140.5 L267.4 140.2 L266.7 139.8 L266.0 139.4 L265.3 139.0 L264.6 138.6 L264.0 138.2 L263.3 137.8 L262.6 137.4 L261.9 137.0 L261.3 136.6 L260.6 136.2 L259.9 135.7 L259.3 135.3 L258.6 134.9 L258.0 134.4 L257.3 134.0 L256.7 133.6 L256.0 133.1 L255.4 132.7 L254.8 132.2 L254.1 131.8 L253.5 131.3 L252.9 130.9 L252.2 130.4 L251.6 129.9 L251.0 129.5 L250.4 129.0 L249.7 128.5 L249.1 128.1 L248.5 127.6 L247.9 127.1 L247.3 126.6 L246.7 126.1 L246.1 125.6 L245.5 125.1 L244.9 124.6 L244.3 124.2 L243.7 123.7 L243.1 123.2 L242.5 122.7 L241.9 122.2 L241.3 121.7 L240.7 121.2 L240.1 120.7 L239.6 120.2 L239.0 119.7 L238.4 119.2 L237.8 118.7 L237.2 118.2 L236.6 117.7 L236.0 117.2 L235.5 116.7 L234.9 116.1 L234.3 115.6 L233.7 115.1 L233.1 114.6 L232.6 114.1 L232.0 113.5 L231.4 113.0 L230.9 112.5 L230.3 111.9 L229.7 111.4 L229.2 110.8 L228.6 110.3 L228.1 109.7 L227.5 109.2 L227.0 108.7 L226.4 108.1 L225.9 107.5 L225.3 107.0 L224.8 106.4 L224.2 105.9 L223.7 105.3 L223.1 104.8 L222.6 104.2 L222.1 103.6 L221.5 103.1 L221.0 102.5 L220.5 102.0 L219.9 101.4 L219.4 100.8 L218.8 100.3 L218.3 99.7 L217.8 99.2 L217.2 98.6 L216.6 98.0 L216.0 97.3 L215.3 96.6 L214.5 95.9 L213.8 95.2 L213.0 94.4 L212.2 93.6 L211.3 92.8 L210.5 92.0 L209.6 91.2 L208.8 90.3 L207.9 89.5 L207.1 88.7 L206.3 87.9 L205.4 87.0 L204.6 86.2 L203.9 85.5 L203.1 84.7 L202.4 84.0 L201.8 83.3 L201.1 82.6 L200.6 82.0 L200.1 81.3 L199.5 81.0 L199.0 80.7 L198.5 80.4 L198.0 80.1 L197.5 79.8 L197.0 79.5 L196.5 79.2 L196.0 78.9 L195.5 78.6 L194.9 78.3 L194.4 78.0 L193.9 77.7 L193.4 77.4 L192.9 77.1 L192.3 76.8 L191.8 76.4 L191.3 76.1 L190.8 75.8 L190.2 75.5 L189.7 75.2 L189.2 74.9 L188.8 74.6 L188.3 74.2 L187.9 73.9 L187.4 73.5 L187.0 73.2 L186.6 72.8 L186.1 72.4 L185.7 72.1 L185.2 71.7 L184.8 71.3 L184.4 70.9 L184.0 70.5 L183.6 70.1 L183.2 69.7 L182.8 69.2 L182.4 68.8 L182.0 68.3 L181.7 67.9 L181.3 67.4 L180.9 67.0 L180.5 66.5 L180.2 66.0 L179.8 65.6 L179.4 65.1 L179.0 64.7 L178.6 64.2 L178.2 63.7 L177.8 63.2 L177.4 62.7 L177.0 62.2 L176.7 61.8 L176.3 61.2 L175.9 60.7 L175.6 60.1 L175.2 59.6 L174.8 59.0 L174.5 58.4 L174.1 57.9 L173.7 57.3 L173.4 56.7 L172.8 56.3 L172.3 56.0 L171.7 55.7 L171.1 55.4 L170.5 55.0 L169.9 54.7 L169.4 54.3 L168.8 54.0 L168.2 53.7 L167.6 53.3 L167.0 53.0 L166.4 52.7 L165.8 52.3 L165.2 52.0 L164.6 51.6 L164.0 51.3 L163.4 51.0 L162.8 50.6 L162.2 50.3 L161.6 49.9 L161.0 49.6 L160.4 49.2 L159.7 48.8 L159.1 48.5 L158.5 48.1 L157.9 47.8 L157.3 47.4 L156.7 47.1 L156.1 46.8 L155.4 46.5 L154.8 46.2 L154.2 45.9 L153.5 45.6 L152.9 45.3 L152.3 45.0 L151.6 44.7 L151.0 44.4 L150.4 44.2 L149.7 43.9 L149.1 43.6 L148.4 43.3 L147.8 43.0 L147.1 42.8 L146.5 42.5 L145.8 42.2 L145.2 42.0 L144.5 41.7 L143.8 41.5 L143.2 41.3 L142.5 41.0 L141.8 40.8 L141.2 40.6 L140.5 40.5 L139.8 40.3 L139.1 40.1 L138.4 40.0 L137.8 39.8 L137.1 39.7 L136.4 39.6 L135.7 39.5 L135.0 39.4 L134.3 39.3 L133.6 39.3 L132.9 39.2 L132.2 39.2 L131.4 39.1 L130.7 39.1 L130.0 39.1 L129.3 39.1 L128.6 39.2 L127.8 39.3 L127.1 39.4 L126.4 39.5 L125.7 39.7 L124.9 39.8 L124.2 40.0 L123.4 40.3 L122.7 40.5 L122.0 40.8 L121.2 41.1 L120.5 41.4 L119.7 41.6 L119.0 41.9 L118.3 42.3 L117.5 42.6 L116.8 42.9 L116.1 43.1 L115.3 43.4 L114.6 43.7 L113.8 44.0 L113.1 44.3 L112.4 44.6 L111.6 44.8 L110.9 45.1 L110.2 45.3 L109.5 45.6 L108.7 45.8 L108.0 46.0" fill="none" stroke="#0000ff" stroke-width="1.1" stroke-dasharray="9.5 3"/>
<path d="M371.4 143.0 L370.6 143.2 L369.9 143.4 L369.1 143.6 L368.4 143.9 L367.6 144.1 L366.9 144.3 L366.1 144.5 L365.3 144.7 L364.6 144.9 L363.8 145.1 L363.0 145.2 L362.3 145.4 L361.5 145.6 L360.7 145.8 L359.9 145.9 L359.1 146.1 L358.4 146.3 L357.6 146.4 L356.8 146.5 L356.0 146.7 L355.2 146.9 L354.4 147.0 L353.6 147.2 L352.9 147.3 L352.1 147.5 L351.3 147.7 L350.5 147.8 L349.7 148.0 L348.9 148.1 L348.1 148.3 L347.4 148.4 L346.6 148.6 L345.8 148.7 L345.0 148.8 L344.2 148.9 L343.4 149.0 L342.6 149.1 L341.8 149.2 L341.0 149.3 L340.3 149.3 L339.5 149.4 L338.7 149.4 L337.9 149.5 L337.1 149.5 L336.3 149.5 L335.5 149.5 L334.7 149.5 L333.9 149.4 L333.1 149.4 L332.3 149.4 L331.5 149.3 L330.7 149.2 L330.0 149.2 L329.2 149.1 L328.4 149.0 L327.6 149.0 L326.8 148.9 L326.0 148.8 L325.2 148.8 L324.4 148.7 L323.6 148.6 L322.8 148.5 L322.0 148.5 L321.2 148.4 L320.5 148.3 L319.7 148.2 L318.9 148.1 L318.1 148.0 L317.3 148.0 L316.5 147.9 L315.7 147.8 L315.0 147.7 L314.2 147.6 L313.4 147.5 L312.6 147.4 L311.8 147.3 L311.1 147.2 L310.3 147.0 L309.5 146.9 L308.7 146.8 L307.9 146.7 L307.2 146.6 L306.4 146.5 L305.6 146.4 L304.8 146.2 L304.1 146.1 L303.3 146.0 L302.5 145.8 L301.8 145.6 L301.0 145.5 L300.2 145.3 L299.5 145.1 L298.7 144.9 L298.0 144.7 L297.2 144.5 L296.4 144.3 L295.7 144.1 L294.9 143.9 L294.2 143.6 L293.4 143.4 L292.7 143.1 L292.0 142.9 L291.2 142.6 L290.5 142.4 L289.7 142.1 L289.0 141.9 L288.3 141.6 L287.5 141.4 L286.8 141.1 L286.1 140.8 L285.3 140.5 L284.6 140.3 L283.9 140.0 L283.1 139.7 L282.4 139.5 L281.7 139.2 L281.0 138.9 L280.2 138.7 L279.5 138.4 L278.8 138.1 L278.0 137.8 L277.3 137.5 L276.6 137.2 L275.9 136.9 L275.2 136.6 L274.4 136.3 L273.7 136.0 L273.0 135.7 L272.3 135.4 L271.6 135.1 L270.9 134.7 L270.2 134.4 L269.5 134.1 L268.8 133.7 L268.1 133.4 L267.4 133.0 L266.7 132.7 L266.0 132.3 L265.3 132.0 L264.6 131.6 L264.0 131.3 L263.3 130.9 L262.6 130.5 L261.9 130.1 L261.3 129.8 L260.6 129.4 L259.9 129.0 L259.3 128.6 L258.6 128.2 L257.9 127.8 L257.3 127.4 L256.6 127.1 L256.0 126.7 L255.3 126.3 L254.7 125.8 L254.0 125.4 L253.4 125.0 L252.8 124.6 L252.1 124.2 L251.5 123.8 L250.8 123.3 L250.2 122.9 L249.6 122.5 L249.0 122.0 L248.3 121.6 L247.7 121.2 L247.1 120.7 L246.5 120.3 L245.8 119.9 L245.2 119.4 L244.6 119.0 L244.0 118.6 L243.4 118.1 L242.7 117.7 L242.1 117.2 L241.5 116.8 L240.9 116.4 L240.3 115.9 L239.7 115.5 L239.0 115.0 L238.4 114.6 L237.8 114.1 L237.2 113.7 L236.6 113.2 L236.0 112.7 L235.4 112.3 L234.8 111.8 L234.2 111.3 L233.6 110.9 L233.0 110.4 L232.4 109.9 L231.8 109.4 L231.2 108.9 L230.7 108.4 L230.1 107.9 L229.5 107.4 L228.9 106.9 L228.3 106.4 L227.8 105.9 L227.2 105.4 L226.6 104.9 L226.0 104.4 L225.5 103.9 L224.9 103.4 L224.3 102.9 L223.8 102.4 L223.2 101.9 L222.6 101.4 L222.1 100.9 L221.5 100.4 L220.9 99.8 L220.4 99.3 L219.8 98.8 L219.2 98.3 L218.7 97.8 L218.1 97.3 L217.4 96.7 L216.7 96.1 L216.0 95.5 L215.2 94.8 L214.4 94.1 L213.6 93.4 L212.7 92.7 L211.8 91.9 L210.9 91.1 L210.0 90.4 L209.1 89.6 L208.2 88.8 L207.3 88.0 L206.4 87.2 L205.6 86.5 L204.7 85.7 L203.9 85.0 L203.1 84.3 L202.4 83.6 L201.6 82.9 L201.0 82.3 L200.4 81.7 L199.8 81.2 L199.3 80.9 L198.8 80.6 L198.3 80.3 L197.7 80.0 L197.2 79.7 L196.7 79.4 L196.2 79.1 L195.7 78.9 L195.1 78.6 L194.6 78.3 L194.1 78.0 L193.5 77.7 L193.0 77.4 L192.5 77.1 L192.0 76.8 L191.4 76.5 L190.9 76.3 L190.4 76.0 L189.8 75.7 L189.3 75.4 L188.8 75.1 L188.3 74.8 L187.8 74.5 L187.4 74.2 L186.9 73.8 L186.4 73.5 L185.9 73.2 L185.5 72.8 L185.0 72.5 L184.5 72.2 L184.0 71.8 L183.6 71.5 L183.1 71.1 L182.7 70.8 L182.2 70.4 L181.8 70.0 L181.4 69.6 L180.9 69.3 L180.5 68.9 L180.1 68.5 L179.6 68.1 L179.2 67.7 L178.8 67.3 L178.3 66.9 L177.9 66.5 L177.5 66.2 L177.0 65.8 L176.6 65.4 L176.2 65.0 L175.7 64.5 L175.3 64.1 L174.8 63.7 L174.5 63.2 L174.1 62.7 L173.8 62.2 L173.4 61.7 L173.1 61.1 L172.7 60.6 L172.3 60.0 L172.0 59.5 L171.6 58.9 L171.1 58.6 L170.5 58.3 L169.9 58.0 L169.3 57.7 L168.8 57.4 L168.2 57.1 L167.6 56.7 L167.0 56.4 L166.4 56.1 L165.8 55.8 L165.2 55.5 L164.6 55.2 L164.0 54.9 L163.4 54.6 L162.8 54.3 L162.2 54.0 L161.6 53.7 L161.0 53.3 L160.4 53.0 L159.8 52.7 L159.2 52.4 L158.6 52.1 L158.0 51.8 L157.4 51.4 L156.8 51.1 L156.1 50.8 L155.5 50.5 L154.9 50.2 L154.3 49.9 L153.7 49.7 L153.0 49.4 L152.4 49.1 L151.8 48.9 L151.2 48.6 L150.5 48.3 L149.9 48.1 L149.3 47.8 L148.6 47.6 L148.0 47.3 L147.4 47.1 L146.7 46.8 L146.1 46.6 L145.4 46.3 L144.8 46.1 L144.1 45.9 L143.5 45.7 L142.8 45.5 L142.2 45.3 L141.5 45.1 L140.9 44.9 L140.2 44.7 L139.6 44.5 L138.9 44.4 L138.2 44.2 L137.5 44.1 L136.9 44.0 L136.2 43.9 L135.5 43.8 L134.8 43.7 L134.2 43.6 L133.5 43.6 L132.8 43.5 L132.1 43.5 L131.4 43.4 L130.7 43.4 L130.0 43.4 L129.3 43.4 L128.6 43.4 L127.9 43.5 L127.2 43.5 L126.5 43.6 L125.8 43.7 L125.1 43.9 L124.4 44.0 L123.7 44.2 L123.0 44.4 L122.3 44.6 L121.6 44.8 L120.8 45.0 L120.1 45.3 L119.4 45.5 L118.7 45.8 L118.0 46.1 L117.3 46.3 L116.5 46.6 L115.8 46.8 L115.1 47.1 L114.4 47.3 L113.7 47.6 L113.0 47.8 L112.3 48.1 L111.5 48.3 L110.8 48.5 L110.1 48.7 L109.4 48.9 L108.7 49.1 L108.0 49.3 L107.3 49.5" fill="none" stroke="#0000ff" stroke-width="1.1" stroke-dasharray="5.5 2.6 1 2.6"/>
<path d="M373.4 133.0 L372.6 133.2 L371.9 133.3 L371.1 133.5 L370.4 133.6 L369.6 133.8 L368.9 134.0 L368.1 134.1 L367.3 134.3 L366.6 134.4 L365.8 134.6 L365.1 134.7 L364.3 134.9 L363.5 135.0 L362.8 135.1 L362.0 135.3 L361.2 135.4 L360.5 135.5 L359.7 135.7 L358.9 135.8 L358.1 135.9 L357.4 136.1 L356.6 136.2 L355.8 136.4 L355.1 136.5 L354.3 136.7 L353.5 136.9 L352.8 137.0 L352.0 137.2 L351.3 137.3 L350.5 137.5 L349.7 137.7 L349.0 137.8 L348.2 137.9 L347.4 138.1 L346.6 138.2 L345.9 138.3 L345.1 138.5 L344.3 138.6 L343.6 138.7 L342.8 138.7 L342.0 138.8 L341.3 138.9 L340.5 139.0 L339.7 139.0 L338.9 139.1 L338.2 139.1 L337.4 139.1 L336.6 139.1 L335.8 139.1 L335.1 139.1 L334.3 139.1 L333.5 139.0 L332.7 139.0 L331.9 138.9 L331.2 138.9 L330.4 138.9 L329.6 138.8 L328.8 138.8 L328.1 138.7 L327.3 138.7 L326.5 138.7 L325.7 138.6 L325.0 138.6 L324.2 138.5 L323.4 138.5 L322.6 138.4 L321.9 138.4 L321.1 138.3 L320.3 138.3 L319.6 138.2 L318.8 138.1 L318.0 138.1 L317.2 138.0 L316.5 138.0 L315.7 137.9 L314.9 137.9 L314.2 137.8 L313.4 137.7 L312.6 137.7 L311.9 137.6 L311.1 137.5 L310.3 137.5 L309.6 137.4 L308.8 137.3 L308.0 137.2 L307.3 137.1 L306.5 137.1 L305.7 136.9 L305.0 136.8 L304.2 136.7 L303.5 136.6 L302.7 136.4 L302.0 136.3 L301.2 136.1 L300.4 136.0 L299.7 135.8 L299.0 135.6 L298.2 135.5 L297.5 135.3 L296.7 135.1 L296.0 134.9 L295.2 134.7 L294.5 134.5 L293.8 134.3 L293.0 134.1 L292.3 133.9 L291.5 133.7 L290.8 133.5 L290.1 133.3 L289.3 133.0 L288.6 132.8 L287.9 132.6 L287.1 132.4 L286.4 132.2 L285.7 131.9 L284.9 131.7 L284.2 131.5 L283.5 131.3 L282.7 131.1 L282.0 130.8 L281.3 130.6 L280.6 130.4 L279.8 130.1 L279.1 129.9 L278.4 129.6 L277.7 129.4 L276.9 129.1 L276.2 128.9 L275.5 128.6 L274.8 128.3 L274.1 128.1 L273.4 127.8 L272.7 127.5 L271.9 127.2 L271.2 126.9 L270.5 126.6 L269.8 126.3 L269.1 126.0 L268.4 125.7 L267.7 125.4 L267.0 125.1 L266.4 124.8 L265.7 124.5 L265.0 124.2 L264.3 123.9 L263.6 123.6 L262.9 123.2 L262.2 122.9 L261.6 122.6 L260.9 122.3 L260.2 121.9 L259.5 121.6 L258.8 121.3 L258.2 120.9 L257.5 120.6 L256.8 120.2 L256.2 119.9 L255.5 119.5 L254.8 119.2 L254.2 118.8 L253.5 118.5 L252.9 118.1 L252.2 117.7 L251.6 117.4 L250.9 117.0 L250.2 116.6 L249.6 116.2 L248.9 115.9 L248.3 115.5 L247.6 115.1 L247.0 114.8 L246.3 114.4 L245.7 114.0 L245.0 113.7 L244.4 113.3 L243.7 112.9 L243.1 112.5 L242.5 112.2 L241.8 111.8 L241.2 111.4 L240.5 111.0 L239.9 110.6 L239.2 110.2 L238.6 109.8 L238.0 109.4 L237.3 109.0 L236.7 108.6 L236.1 108.2 L235.5 107.8 L234.8 107.4 L234.2 107.0 L233.6 106.5 L233.0 106.1 L232.4 105.7 L231.7 105.2 L231.1 104.8 L230.5 104.3 L229.9 103.9 L229.3 103.5 L228.7 103.0 L228.1 102.6 L227.5 102.1 L226.9 101.7 L226.3 101.2 L225.7 100.8 L225.1 100.3 L224.5 99.9 L223.9 99.4 L223.3 99.0 L222.7 98.5 L222.1 98.1 L221.5 97.6 L220.9 97.2 L220.3 96.7 L219.7 96.3 L219.1 95.8 L218.4 95.3 L217.6 94.8 L216.9 94.2 L216.0 93.6 L215.2 92.9 L214.3 92.3 L213.4 91.6 L212.4 90.9 L211.5 90.2 L210.5 89.4 L209.6 88.7 L208.6 88.0 L207.6 87.3 L206.7 86.5 L205.8 85.8 L204.9 85.1 L204.0 84.5 L203.1 83.8 L202.3 83.2 L201.6 82.6 L200.8 82.0 L200.2 81.5 L199.6 81.1 L199.0 80.8 L198.5 80.5 L198.0 80.2 L197.5 79.9 L196.9 79.7 L196.4 79.4 L195.9 79.1 L195.3 78.8 L194.8 78.5 L194.3 78.3 L193.7 78.0 L193.2 77.7 L192.7 77.5 L192.1 77.2 L191.6 76.9 L191.0 76.6 L190.5 76.4 L190.0 76.1 L189.4 75.8 L188.9 75.6 L188.4 75.3 L187.8 75.0 L187.3 74.7 L186.8 74.4 L186.3 74.1 L185.8 73.9 L185.3 73.6 L184.8 73.3 L184.3 73.0 L183.8 72.7 L183.3 72.4 L182.8 72.1 L182.3 71.8 L181.8 71.5 L181.3 71.1 L180.8 70.8 L180.3 70.5 L179.8 70.2 L179.4 69.9 L178.9 69.6 L178.4 69.2 L177.9 68.9 L177.4 68.6 L176.9 68.3 L176.4 68.0 L176.0 67.6 L175.5 67.3 L175.0 67.0 L174.5 66.7 L174.0 66.3 L173.5 66.0 L173.0 65.7 L172.7 65.2 L172.3 64.8 L172.0 64.3 L171.6 63.7 L171.3 63.2 L170.9 62.7 L170.6 62.2 L170.3 61.6 L169.9 61.1 L169.4 60.8 L168.8 60.5 L168.2 60.2 L167.6 59.9 L167.0 59.7 L166.4 59.4 L165.9 59.1 L165.3 58.8 L164.7 58.6 L164.1 58.3 L163.5 58.0 L162.9 57.7 L162.3 57.4 L161.7 57.1 L161.1 56.9 L160.5 56.6 L159.9 56.3 L159.3 56.0 L158.7 55.7 L158.1 55.4 L157.5 55.1 L156.9 54.8 L156.3 54.6 L155.7 54.3 L155.1 54.0 L154.5 53.7 L153.9 53.4 L153.3 53.2 L152.7 52.9 L152.0 52.6 L151.4 52.4 L150.8 52.1 L150.2 51.9 L149.6 51.7 L148.9 51.4 L148.3 51.2 L147.7 50.9 L147.1 50.7 L146.5 50.5 L145.8 50.2 L145.2 50.0 L144.6 49.8 L143.9 49.6 L143.3 49.4 L142.7 49.2 L142.0 49.0 L141.4 48.8 L140.7 48.6 L140.1 48.5 L139.5 48.3 L138.8 48.1 L138.2 48.0 L137.5 47.9 L136.9 47.8 L136.2 47.7 L135.5 47.5 L134.9 47.5 L134.2 47.4 L133.6 47.3 L132.9 47.2 L132.2 47.2 L131.6 47.1 L130.9 47.1 L130.2 47.1 L129.6 47.1 L128.9 47.1 L128.2 47.1 L127.5 47.1 L126.8 47.2 L126.2 47.3 L125.5 47.4 L124.8 47.5 L124.1 47.6 L123.4 47.7 L122.7 47.9 L122.0 48.1 L121.3 48.3 L120.6 48.5 L120.0 48.7 L119.3 48.9 L118.6 49.1 L117.9 49.4 L117.2 49.6 L116.5 49.8 L115.8 50.0 L115.1 50.3 L114.4 50.5 L113.7 50.7 L113.0 50.9 L112.3 51.1 L111.6 51.3 L110.9 51.5 L110.2 51.7 L109.5 51.9 L108.9 52.0 L108.2 52.2 L107.5 52.4 L106.8 52.5" fill="none" stroke="#0000ff" stroke-width="1.1" stroke-dasharray="8.5 2.6 1 2.6"/>
<path d="M374.7 126.0 L374.0 126.1 L373.2 126.2 L372.5 126.4 L371.7 126.5 L371.0 126.6 L370.2 126.7 L369.5 126.9 L368.7 127.0 L368.0 127.1 L367.2 127.2 L366.4 127.3 L365.7 127.5 L364.9 127.6 L364.2 127.7 L363.4 127.8 L362.7 127.9 L361.9 128.1 L361.1 128.2 L360.4 128.3 L359.6 128.4 L358.9 128.6 L358.1 128.7 L357.4 128.8 L356.6 129.0 L355.8 129.1 L355.1 129.3 L354.3 129.5 L353.6 129.6 L352.8 129.8 L352.1 129.9 L351.3 130.1 L350.6 130.3 L349.8 130.4 L349.1 130.6 L348.3 130.7 L347.6 130.8 L346.8 131.0 L346.1 131.1 L345.3 131.2 L344.6 131.3 L343.8 131.4 L343.0 131.5 L342.3 131.6 L341.5 131.7 L340.8 131.8 L340.0 131.8 L339.2 131.8 L338.5 131.9 L337.7 131.9 L336.9 131.9 L336.2 131.9 L335.4 131.9 L334.6 131.8 L333.9 131.8 L333.1 131.8 L332.3 131.8 L331.6 131.8 L330.8 131.7 L330.0 131.7 L329.3 131.7 L328.5 131.7 L327.8 131.7 L327.0 131.6 L326.2 131.6 L325.5 131.6 L324.7 131.6 L323.9 131.5 L323.2 131.5 L322.4 131.5 L321.6 131.4 L320.9 131.4 L320.1 131.4 L319.4 131.4 L318.6 131.3 L317.8 131.3 L317.1 131.3 L316.3 131.2 L315.6 131.2 L314.8 131.2 L314.0 131.1 L313.3 131.1 L312.5 131.1 L311.8 131.0 L311.0 131.0 L310.2 130.9 L309.5 130.9 L308.7 130.8 L308.0 130.7 L307.2 130.7 L306.5 130.6 L305.7 130.5 L305.0 130.4 L304.2 130.3 L303.5 130.1 L302.7 130.0 L302.0 129.9 L301.2 129.7 L300.5 129.6 L299.7 129.5 L299.0 129.3 L298.2 129.1 L297.5 129.0 L296.8 128.8 L296.0 128.6 L295.3 128.5 L294.6 128.3 L293.8 128.1 L293.1 128.0 L292.3 127.8 L291.6 127.6 L290.9 127.4 L290.1 127.2 L289.4 127.0 L288.7 126.9 L287.9 126.7 L287.2 126.5 L286.5 126.3 L285.7 126.2 L285.0 126.0 L284.3 125.8 L283.5 125.6 L282.8 125.4 L282.1 125.2 L281.4 125.0 L280.6 124.8 L279.9 124.5 L279.2 124.3 L278.5 124.1 L277.7 123.9 L277.0 123.6 L276.3 123.4 L275.6 123.1 L274.9 122.9 L274.2 122.7 L273.4 122.4 L272.7 122.2 L272.0 121.9 L271.3 121.6 L270.6 121.4 L269.9 121.1 L269.2 120.8 L268.5 120.6 L267.8 120.3 L267.1 120.0 L266.4 119.8 L265.7 119.5 L265.0 119.2 L264.3 118.9 L263.6 118.7 L262.9 118.4 L262.2 118.1 L261.5 117.8 L260.8 117.5 L260.2 117.2 L259.5 116.9 L258.8 116.6 L258.1 116.3 L257.4 116.0 L256.7 115.7 L256.1 115.4 L255.4 115.0 L254.7 114.7 L254.0 114.4 L253.4 114.1 L252.7 113.8 L252.0 113.4 L251.3 113.1 L250.7 112.8 L250.0 112.5 L249.3 112.1 L248.7 111.8 L248.0 111.5 L247.3 111.2 L246.6 110.8 L246.0 110.5 L245.3 110.2 L244.6 109.9 L244.0 109.5 L243.3 109.2 L242.6 108.9 L242.0 108.5 L241.3 108.2 L240.7 107.8 L240.0 107.5 L239.3 107.1 L238.7 106.8 L238.0 106.4 L237.4 106.0 L236.7 105.7 L236.1 105.3 L235.5 104.9 L234.8 104.5 L234.2 104.1 L233.5 103.7 L232.9 103.3 L232.3 102.9 L231.6 102.5 L231.0 102.1 L230.4 101.7 L229.8 101.3 L229.1 100.9 L228.5 100.5 L227.9 100.1 L227.3 99.7 L226.6 99.3 L226.0 98.9 L225.4 98.4 L224.8 98.0 L224.1 97.6 L223.5 97.2 L222.9 96.8 L222.3 96.4 L221.6 96.0 L221.0 95.6 L220.4 95.2 L219.7 94.8 L219.0 94.3 L218.3 93.8 L217.5 93.3 L216.6 92.7 L215.7 92.1 L214.8 91.4 L213.8 90.8 L212.8 90.1 L211.8 89.5 L210.8 88.8 L209.8 88.1 L208.8 87.4 L207.8 86.7 L206.8 86.0 L205.9 85.3 L204.9 84.7 L204.0 84.1 L203.1 83.4 L202.2 82.9 L201.4 82.3 L200.7 81.8 L199.9 81.3 L199.3 80.9 L198.8 80.6 L198.2 80.4 L197.7 80.1 L197.2 79.8 L196.6 79.6 L196.1 79.3 L195.6 79.1 L195.0 78.8 L194.5 78.5 L193.9 78.3 L193.4 78.0 L192.8 77.8 L192.3 77.5 L191.7 77.3 L191.2 77.0 L190.6 76.7 L190.1 76.5 L189.6 76.2 L189.0 76.0 L188.5 75.7 L187.9 75.5 L187.4 75.2 L186.8 75.0 L186.3 74.7 L185.8 74.5 L185.2 74.2 L184.7 73.9 L184.1 73.7 L183.6 73.4 L183.1 73.2 L182.5 72.9 L182.0 72.7 L181.4 72.4 L180.9 72.1 L180.4 71.9 L179.8 71.6 L179.3 71.4 L178.7 71.1 L178.2 70.9 L177.7 70.6 L177.1 70.4 L176.6 70.1 L176.0 69.9 L175.5 69.6 L175.0 69.4 L174.4 69.1 L173.9 68.9 L173.4 68.6 L172.8 68.4 L172.3 68.2 L171.8 67.9 L171.2 67.7 L170.9 67.3 L170.5 66.8 L170.2 66.3 L169.8 65.8 L169.5 65.3 L169.2 64.8 L168.8 64.3 L168.5 63.8 L168.2 63.2 L167.6 62.9 L167.0 62.7 L166.5 62.5 L165.9 62.2 L165.3 62.0 L164.7 61.7 L164.1 61.5 L163.5 61.3 L162.9 61.0 L162.4 60.8 L161.8 60.5 L161.2 60.3 L160.6 60.0 L160.0 59.8 L159.4 59.5 L158.8 59.3 L158.2 59.0 L157.6 58.8 L157.0 58.5 L156.4 58.2 L155.8 58.0 L155.2 57.7 L154.6 57.5 L154.0 57.2 L153.4 57.0 L152.8 56.7 L152.2 56.5 L151.6 56.3 L151.0 56.0 L150.4 55.8 L149.8 55.6 L149.2 55.4 L148.6 55.2 L148.0 54.9 L147.4 54.7 L146.8 54.5 L146.2 54.3 L145.6 54.1 L144.9 53.9 L144.3 53.7 L143.7 53.5 L143.1 53.3 L142.5 53.1 L141.9 53.0 L141.2 52.8 L140.6 52.6 L140.0 52.5 L139.4 52.3 L138.7 52.2 L138.1 52.0 L137.5 51.9 L136.8 51.8 L136.2 51.7 L135.6 51.6 L134.9 51.5 L134.3 51.4 L133.6 51.3 L133.0 51.3 L132.3 51.2 L131.7 51.1 L131.0 51.1 L130.4 51.1 L129.7 51.0 L129.1 51.0 L128.4 51.0 L127.8 51.0 L127.1 51.1 L126.5 51.1 L125.8 51.2 L125.1 51.2 L124.5 51.3 L123.8 51.4 L123.1 51.5 L122.5 51.6 L121.8 51.7 L121.1 51.9 L120.4 52.0 L119.8 52.2 L119.1 52.3 L118.4 52.5 L117.7 52.7 L117.1 52.9 L116.4 53.0 L115.7 53.2 L115.0 53.4 L114.4 53.6 L113.7 53.7 L113.0 53.9 L112.3 54.1 L111.7 54.2 L111.0 54.4 L110.3 54.5 L109.7 54.7 L109.0 54.8 L108.3 54.9 L107.6 55.1 L107.0 55.2 L106.3 55.3" fill="none" stroke="#0000ff" stroke-width="1.1" stroke-dasharray="5 2.5 1 2.5 1 2.5"/>
<path d="M374.6 118.5 L373.9 118.6 L373.1 118.7 L372.4 118.7 L371.6 118.8 L370.9 118.9 L370.2 119.0 L369.4 119.1 L368.7 119.2 L368.0 119.3 L367.2 119.3 L366.5 119.4 L365.7 119.5 L365.0 119.6 L364.3 119.7 L363.5 119.8 L362.8 119.9 L362.1 120.0 L361.3 120.1 L360.6 120.2 L359.9 120.4 L359.1 120.5 L358.4 120.6 L357.7 120.8 L356.9 120.9 L356.2 121.0 L355.5 121.2 L354.8 121.4 L354.0 121.5 L353.3 121.7 L352.6 121.8 L351.9 122.0 L351.1 122.2 L350.4 122.3 L349.7 122.5 L349.0 122.7 L348.2 122.8 L347.5 123.0 L346.8 123.1 L346.1 123.3 L345.3 123.4 L344.6 123.5 L343.9 123.6 L343.1 123.7 L342.4 123.8 L341.7 123.9 L340.9 124.0 L340.2 124.1 L339.4 124.1 L338.7 124.2 L338.0 124.2 L337.2 124.2 L336.5 124.2 L335.7 124.2 L335.0 124.2 L334.2 124.2 L333.5 124.2 L332.8 124.2 L332.0 124.2 L331.3 124.2 L330.5 124.2 L329.8 124.2 L329.0 124.2 L328.3 124.2 L327.6 124.2 L326.8 124.2 L326.1 124.2 L325.3 124.2 L324.6 124.2 L323.8 124.2 L323.1 124.2 L322.4 124.2 L321.6 124.2 L320.9 124.2 L320.1 124.2 L319.4 124.2 L318.6 124.2 L317.9 124.2 L317.2 124.2 L316.4 124.2 L315.7 124.2 L314.9 124.2 L314.2 124.2 L313.4 124.2 L312.7 124.2 L312.0 124.2 L311.2 124.2 L310.5 124.1 L309.7 124.1 L309.0 124.1 L308.3 124.0 L307.5 123.9 L306.8 123.9 L306.0 123.8 L305.3 123.7 L304.6 123.6 L303.8 123.5 L303.1 123.4 L302.4 123.3 L301.6 123.2 L300.9 123.1 L300.2 123.0 L299.4 122.8 L298.7 122.7 L298.0 122.6 L297.2 122.4 L296.5 122.3 L295.8 122.2 L295.0 122.0 L294.3 121.9 L293.6 121.8 L292.9 121.6 L292.1 121.5 L291.4 121.3 L290.7 121.2 L289.9 121.1 L289.2 120.9 L288.5 120.8 L287.7 120.6 L287.0 120.5 L286.3 120.3 L285.6 120.2 L284.8 120.0 L284.1 119.9 L283.4 119.7 L282.7 119.5 L282.0 119.3 L281.2 119.1 L280.5 119.0 L279.8 118.8 L279.1 118.6 L278.4 118.4 L277.7 118.2 L276.9 118.0 L276.2 117.8 L275.5 117.6 L274.8 117.3 L274.1 117.1 L273.4 116.9 L272.7 116.7 L272.0 116.5 L271.3 116.3 L270.5 116.0 L269.8 115.8 L269.1 115.6 L268.4 115.3 L267.7 115.1 L267.0 114.9 L266.3 114.7 L265.6 114.4 L264.9 114.2 L264.2 114.0 L263.5 113.7 L262.8 113.5 L262.1 113.2 L261.4 113.0 L260.7 112.7 L260.0 112.5 L259.3 112.2 L258.6 111.9 L257.9 111.7 L257.2 111.4 L256.5 111.1 L255.8 110.8 L255.2 110.6 L254.5 110.3 L253.8 110.0 L253.1 109.7 L252.4 109.5 L251.7 109.2 L251.0 108.9 L250.3 108.6 L249.6 108.4 L248.9 108.1 L248.3 107.8 L247.6 107.5 L246.9 107.3 L246.2 107.0 L245.5 106.7 L244.8 106.4 L244.1 106.1 L243.4 105.8 L242.8 105.5 L242.1 105.2 L241.4 104.9 L240.7 104.6 L240.1 104.3 L239.4 104.0 L238.7 103.7 L238.1 103.4 L237.4 103.0 L236.7 102.7 L236.1 102.3 L235.4 102.0 L234.8 101.6 L234.1 101.3 L233.4 100.9 L232.8 100.6 L232.1 100.2 L231.5 99.9 L230.9 99.5 L230.2 99.1 L229.6 98.8 L228.9 98.4 L228.3 98.0 L227.6 97.7 L227.0 97.3 L226.3 96.9 L225.7 96.6 L225.0 96.2 L224.4 95.8 L223.7 95.5 L223.1 95.1 L222.4 94.7 L221.8 94.4 L221.1 94.0 L220.5 93.7 L219.7 93.2 L218.9 92.8 L218.1 92.3 L217.2 91.7 L216.3 91.2 L215.3 90.6 L214.3 90.0 L213.3 89.3 L212.3 88.7 L211.2 88.0 L210.2 87.4 L209.1 86.7 L208.1 86.1 L207.1 85.4 L206.1 84.8 L205.1 84.2 L204.1 83.6 L203.2 83.0 L202.3 82.5 L201.4 82.0 L200.6 81.5 L199.9 81.1 L199.2 80.7 L198.7 80.4 L198.1 80.2 L197.6 79.9 L197.1 79.7 L196.5 79.4 L196.0 79.2 L195.4 78.9 L194.9 78.7 L194.3 78.4 L193.8 78.2 L193.2 77.9 L192.7 77.7 L192.2 77.4 L191.6 77.2 L191.1 76.9 L190.5 76.7 L190.0 76.4 L189.4 76.2 L188.8 76.0 L188.3 75.7 L187.7 75.5 L187.2 75.2 L186.7 75.0 L186.1 74.8 L185.6 74.5 L185.0 74.3 L184.5 74.0 L183.9 73.8 L183.4 73.5 L182.8 73.3 L182.3 73.1 L181.7 72.8 L181.2 72.6 L180.6 72.3 L180.1 72.1 L179.5 71.9 L179.0 71.6 L178.5 71.4 L177.9 71.1 L177.4 70.9 L176.8 70.6 L176.3 70.4 L175.7 70.2 L175.2 69.9 L174.7 69.7 L174.1 69.5 L173.6 69.2 L173.0 69.0 L172.5 68.8 L171.9 68.5 L171.4 68.3 L170.8 68.1 L170.4 67.8 L170.0 67.4 L169.6 67.0 L169.1 66.6 L168.7 66.2 L168.3 65.8 L167.9 65.4 L167.5 65.0 L167.1 64.6 L166.5 64.4 L165.9 64.2 L165.3 64.0 L164.7 63.8 L164.1 63.6 L163.6 63.4 L163.0 63.1 L162.4 62.9 L161.8 62.7 L161.2 62.5 L160.6 62.3 L160.0 62.1 L159.4 61.9 L158.8 61.7 L158.2 61.5 L157.6 61.3 L157.0 61.1 L156.4 61.0 L155.8 60.8 L155.2 60.6 L154.6 60.4 L154.0 60.2 L153.4 60.0 L152.8 59.8 L152.2 59.6 L151.6 59.5 L151.0 59.3 L150.4 59.1 L149.8 58.9 L149.2 58.8 L148.6 58.6 L148.0 58.5 L147.3 58.3 L146.7 58.1 L146.1 58.0 L145.5 57.8 L144.9 57.7 L144.3 57.5 L143.7 57.4 L143.0 57.3 L142.4 57.1 L141.8 57.0 L141.2 56.9 L140.6 56.7 L139.9 56.6 L139.3 56.5 L138.7 56.4 L138.1 56.3 L137.4 56.2 L136.8 56.1 L136.2 56.1 L135.5 56.0 L134.9 55.9 L134.3 55.9 L133.6 55.8 L133.0 55.8 L132.4 55.7 L131.7 55.7 L131.1 55.6 L130.5 55.6 L129.8 55.6 L129.2 55.6 L128.5 55.5 L127.9 55.5 L127.2 55.5 L126.6 55.5 L125.9 55.6 L125.3 55.6 L124.6 55.6 L124.0 55.6 L123.3 55.7 L122.7 55.7 L122.0 55.8 L121.4 55.8 L120.7 55.9 L120.1 56.0 L119.4 56.1 L118.8 56.1 L118.1 56.2 L117.4 56.3 L116.8 56.4 L116.1 56.5 L115.5 56.6 L114.8 56.7 L114.1 56.8 L113.5 56.9 L112.8 57.0 L112.2 57.1 L111.5 57.2 L110.9 57.3 L110.2 57.4 L109.5 57.5 L108.9 57.6 L108.2 57.7 L107.6 57.7 L106.9 57.8 L106.3 57.9 L105.6 58.0" fill="none" stroke="#9400d3" stroke-width="1.1"/>
<path d="M377.0 113.6 L376.3 113.7 L375.5 113.8 L374.8 113.8 L374.0 113.9 L373.3 114.0 L372.6 114.1 L371.8 114.2 L371.1 114.3 L370.3 114.3 L369.6 114.4 L368.8 114.5 L368.1 114.6 L367.3 114.7 L366.6 114.8 L365.8 114.9 L365.1 115.0 L364.4 115.0 L363.6 115.1 L362.9 115.2 L362.1 115.3 L361.4 115.4 L360.6 115.6 L359.9 115.7 L359.2 115.8 L358.4 115.9 L357.7 116.0 L357.0 116.2 L356.2 116.3 L355.5 116.4 L354.7 116.5 L354.0 116.7 L353.3 116.8 L352.5 116.9 L351.8 117.1 L351.1 117.2 L350.3 117.3 L349.6 117.5 L348.9 117.6 L348.1 117.7 L347.4 117.8 L346.6 117.9 L345.9 118.0 L345.2 118.1 L344.4 118.2 L343.7 118.3 L342.9 118.4 L342.2 118.4 L341.4 118.5 L340.7 118.5 L339.9 118.6 L339.2 118.6 L338.4 118.6 L337.7 118.6 L337.0 118.7 L336.2 118.7 L335.5 118.7 L334.7 118.7 L334.0 118.7 L333.2 118.7 L332.5 118.7 L331.7 118.7 L331.0 118.7 L330.2 118.7 L329.5 118.7 L328.7 118.7 L328.0 118.7 L327.2 118.7 L326.5 118.7 L325.7 118.7 L325.0 118.7 L324.2 118.7 L323.5 118.7 L322.8 118.7 L322.0 118.7 L321.3 118.7 L320.5 118.7 L319.8 118.6 L319.0 118.6 L318.3 118.6 L317.5 118.6 L316.8 118.6 L316.0 118.6 L315.3 118.6 L314.5 118.5 L313.8 118.5 L313.1 118.5 L312.3 118.5 L311.6 118.4 L310.8 118.4 L310.1 118.3 L309.3 118.3 L308.6 118.2 L307.8 118.2 L307.1 118.1 L306.4 118.0 L305.6 117.9 L304.9 117.8 L304.1 117.7 L303.4 117.6 L302.7 117.5 L301.9 117.4 L301.2 117.3 L300.4 117.2 L299.7 117.1 L299.0 117.0 L298.2 116.9 L297.5 116.8 L296.8 116.7 L296.0 116.5 L295.3 116.4 L294.6 116.3 L293.8 116.2 L293.1 116.0 L292.4 115.9 L291.6 115.8 L290.9 115.7 L290.2 115.6 L289.4 115.4 L288.7 115.3 L288.0 115.2 L287.2 115.0 L286.5 114.9 L285.8 114.8 L285.0 114.6 L284.3 114.5 L283.6 114.3 L282.9 114.1 L282.1 114.0 L281.4 113.8 L280.7 113.6 L280.0 113.5 L279.2 113.3 L278.5 113.1 L277.8 112.9 L277.1 112.7 L276.4 112.5 L275.6 112.4 L274.9 112.2 L274.2 112.0 L273.5 111.8 L272.8 111.6 L272.1 111.4 L271.3 111.2 L270.6 111.0 L269.9 110.8 L269.2 110.6 L268.5 110.4 L267.8 110.2 L267.1 109.9 L266.4 109.7 L265.6 109.5 L264.9 109.3 L264.2 109.1 L263.5 108.9 L262.8 108.7 L262.1 108.5 L261.4 108.3 L260.7 108.0 L260.0 107.8 L259.3 107.6 L258.6 107.4 L257.9 107.1 L257.2 106.9 L256.5 106.7 L255.7 106.5 L255.0 106.2 L254.3 106.0 L253.6 105.8 L252.9 105.5 L252.2 105.3 L251.5 105.1 L250.8 104.9 L250.1 104.6 L249.4 104.4 L248.7 104.2 L248.0 104.0 L247.3 103.7 L246.6 103.5 L245.9 103.3 L245.2 103.0 L244.5 102.8 L243.8 102.5 L243.1 102.3 L242.4 102.0 L241.7 101.8 L241.0 101.5 L240.4 101.3 L239.7 101.0 L239.0 100.7 L238.3 100.5 L237.6 100.2 L236.9 99.9 L236.3 99.6 L235.6 99.3 L234.9 99.0 L234.2 98.7 L233.6 98.4 L232.9 98.1 L232.2 97.8 L231.6 97.5 L230.9 97.2 L230.2 96.9 L229.6 96.6 L228.9 96.3 L228.2 96.0 L227.5 95.7 L226.9 95.4 L226.2 95.1 L225.5 94.8 L224.9 94.4 L224.2 94.1 L223.5 93.8 L222.9 93.5 L222.2 93.2 L221.5 92.9 L220.8 92.6 L220.1 92.2 L219.3 91.8 L218.4 91.4 L217.5 90.9 L216.5 90.3 L215.6 89.8 L214.6 89.2 L213.5 88.6 L212.5 88.0 L211.4 87.4 L210.3 86.8 L209.3 86.2 L208.2 85.6 L207.2 85.0 L206.1 84.4 L205.1 83.8 L204.1 83.3 L203.2 82.7 L202.3 82.2 L201.4 81.8 L200.6 81.4 L199.8 81.0 L199.1 80.6 L198.6 80.4 L198.1 80.1 L197.5 79.9 L197.0 79.6 L196.4 79.4 L195.9 79.1 L195.3 78.9 L194.8 78.6 L194.3 78.4 L193.7 78.1 L193.2 77.9 L192.6 77.6 L192.1 77.4 L191.5 77.2 L191.0 76.9 L190.4 76.7 L189.9 76.5 L189.3 76.2 L188.8 76.0 L188.2 75.7 L187.7 75.5 L187.1 75.3 L186.6 75.0 L186.0 74.8 L185.5 74.6 L184.9 74.3 L184.4 74.1 L183.8 73.9 L183.3 73.6 L182.7 73.4 L182.2 73.2 L181.6 72.9 L181.1 72.7 L180.5 72.5 L180.0 72.2 L179.4 72.0 L178.9 71.8 L178.3 71.5 L177.8 71.3 L177.2 71.0 L176.7 70.8 L176.1 70.6 L175.6 70.4 L175.0 70.1 L174.5 69.9 L173.9 69.7 L173.4 69.5 L172.8 69.3 L172.3 69.1 L171.7 68.9 L171.2 68.7 L170.6 68.4 L170.1 68.2 L169.7 67.9 L169.2 67.6 L168.7 67.2 L168.2 66.9 L167.8 66.6 L167.3 66.3 L166.8 66.0 L166.4 65.7 L165.8 65.5 L165.2 65.3 L164.6 65.1 L164.0 64.9 L163.5 64.7 L162.9 64.6 L162.3 64.4 L161.7 64.2 L161.1 64.0 L160.5 63.8 L159.9 63.7 L159.3 63.5 L158.7 63.3 L158.1 63.2 L157.5 63.0 L156.9 62.8 L156.3 62.7 L155.7 62.5 L155.1 62.4 L154.5 62.2 L153.9 62.1 L153.3 61.9 L152.7 61.8 L152.1 61.6 L151.5 61.5 L150.9 61.4 L150.3 61.2 L149.7 61.1 L149.1 61.0 L148.5 60.8 L147.9 60.7 L147.3 60.6 L146.7 60.5 L146.1 60.4 L145.4 60.2 L144.8 60.1 L144.2 60.0 L143.6 59.9 L143.0 59.8 L142.4 59.7 L141.8 59.6 L141.2 59.5 L140.5 59.4 L139.9 59.3 L139.3 59.3 L138.7 59.2 L138.1 59.1 L137.5 59.1 L136.8 59.0 L136.2 59.0 L135.6 58.9 L135.0 58.9 L134.4 58.8 L133.7 58.8 L133.1 58.8 L132.5 58.7 L131.9 58.7 L131.2 58.7 L130.6 58.7 L130.0 58.7 L129.4 58.7 L128.7 58.7 L128.1 58.6 L127.5 58.6 L126.9 58.7 L126.2 58.7 L125.6 58.7 L125.0 58.7 L124.3 58.7 L123.7 58.7 L123.1 58.8 L122.4 58.8 L121.8 58.8 L121.2 58.9 L120.6 58.9 L119.9 59.0 L119.3 59.0 L118.7 59.1 L118.0 59.1 L117.4 59.2 L116.8 59.2 L116.1 59.3 L115.5 59.4 L114.9 59.4 L114.2 59.5 L113.6 59.6 L113.0 59.6 L112.3 59.7 L111.7 59.8 L111.1 59.8 L110.4 59.9 L109.8 59.9 L109.2 60.0 L108.5 60.1 L107.9 60.1 L107.3 60.2 L106.6 60.2 L106.0 60.3" fill="none" stroke="#9400d3" stroke-width="1.1" stroke-dasharray="1 2.3"/>
<path d="M377.9 108.8 L377.2 108.8 L376.4 108.9 L375.7 109.0 L374.9 109.1 L374.2 109.2 L373.5 109.2 L372.7 109.3 L372.0 109.4 L371.2 109.5 L370.5 109.6 L369.7 109.6 L369.0 109.7 L368.3 109.8 L367.5 109.9 L366.8 110.0 L366.0 110.0 L365.3 110.1 L364.6 110.2 L363.8 110.3 L363.1 110.4 L362.3 110.5 L361.6 110.5 L360.9 110.6 L360.1 110.7 L359.4 110.8 L358.7 110.9 L357.9 111.0 L357.2 111.1 L356.4 111.2 L355.7 111.3 L355.0 111.4 L354.2 111.5 L353.5 111.6 L352.8 111.7 L352.0 111.8 L351.3 111.9 L350.6 112.0 L349.8 112.1 L349.1 112.2 L348.3 112.3 L347.6 112.4 L346.9 112.5 L346.1 112.6 L345.4 112.6 L344.7 112.7 L343.9 112.8 L343.2 112.9 L342.4 112.9 L341.7 113.0 L340.9 113.0 L340.2 113.1 L339.5 113.1 L338.7 113.2 L338.0 113.2 L337.2 113.2 L336.5 113.2 L335.8 113.3 L335.0 113.3 L334.3 113.3 L333.5 113.3 L332.8 113.3 L332.0 113.3 L331.3 113.3 L330.6 113.3 L329.8 113.3 L329.1 113.3 L328.3 113.3 L327.6 113.3 L326.8 113.3 L326.1 113.3 L325.4 113.3 L324.6 113.2 L323.9 113.2 L323.1 113.2 L322.4 113.2 L321.6 113.2 L320.9 113.1 L320.2 113.1 L319.4 113.1 L318.7 113.1 L317.9 113.0 L317.2 113.0 L316.5 113.0 L315.7 113.0 L315.0 112.9 L314.2 112.9 L313.5 112.9 L312.8 112.8 L312.0 112.8 L311.3 112.7 L310.5 112.7 L309.8 112.6 L309.1 112.6 L308.3 112.5 L307.6 112.4 L306.8 112.4 L306.1 112.3 L305.4 112.2 L304.6 112.1 L303.9 112.1 L303.2 112.0 L302.4 111.9 L301.7 111.8 L301.0 111.7 L300.2 111.6 L299.5 111.5 L298.8 111.4 L298.0 111.3 L297.3 111.2 L296.6 111.1 L295.8 111.0 L295.1 110.9 L294.4 110.8 L293.6 110.7 L292.9 110.6 L292.2 110.5 L291.4 110.4 L290.7 110.3 L290.0 110.2 L289.2 110.1 L288.5 109.9 L287.8 109.8 L287.0 109.7 L286.3 109.6 L285.6 109.5 L284.9 109.3 L284.1 109.2 L283.4 109.0 L282.7 108.9 L282.0 108.7 L281.2 108.6 L280.5 108.4 L279.8 108.3 L279.1 108.1 L278.3 108.0 L277.6 107.8 L276.9 107.6 L276.2 107.5 L275.5 107.3 L274.8 107.1 L274.0 106.9 L273.3 106.8 L272.6 106.6 L271.9 106.4 L271.2 106.2 L270.5 106.0 L269.7 105.9 L269.0 105.7 L268.3 105.5 L267.6 105.3 L266.9 105.2 L266.2 105.0 L265.4 104.8 L264.7 104.6 L264.0 104.5 L263.3 104.3 L262.6 104.1 L261.9 103.9 L261.2 103.7 L260.4 103.6 L259.7 103.4 L259.0 103.2 L258.3 103.0 L257.6 102.8 L256.9 102.7 L256.2 102.5 L255.4 102.3 L254.7 102.1 L254.0 102.0 L253.3 101.8 L252.6 101.6 L251.9 101.4 L251.2 101.2 L250.5 101.1 L249.7 100.9 L249.0 100.7 L248.3 100.5 L247.6 100.3 L246.9 100.1 L246.2 100.0 L245.5 99.8 L244.8 99.6 L244.1 99.4 L243.4 99.2 L242.7 99.0 L242.0 98.8 L241.2 98.6 L240.5 98.4 L239.8 98.1 L239.1 97.9 L238.4 97.7 L237.7 97.5 L237.1 97.3 L236.4 97.0 L235.7 96.8 L235.0 96.6 L234.3 96.3 L233.6 96.1 L232.9 95.8 L232.2 95.6 L231.5 95.3 L230.8 95.1 L230.1 94.8 L229.5 94.6 L228.8 94.3 L228.1 94.1 L227.4 93.8 L226.7 93.6 L226.0 93.3 L225.3 93.1 L224.7 92.8 L224.0 92.6 L223.3 92.3 L222.6 92.1 L221.9 91.8 L221.2 91.5 L220.4 91.2 L219.6 90.8 L218.7 90.4 L217.8 90.0 L216.8 89.5 L215.8 89.0 L214.8 88.5 L213.7 88.0 L212.6 87.4 L211.6 86.8 L210.5 86.3 L209.4 85.7 L208.3 85.1 L207.2 84.6 L206.2 84.0 L205.2 83.5 L204.2 83.0 L203.2 82.5 L202.3 82.0 L201.4 81.6 L200.6 81.2 L199.8 80.9 L199.1 80.6 L198.5 80.3 L198.0 80.1 L197.4 79.8 L196.9 79.6 L196.4 79.3 L195.8 79.1 L195.3 78.8 L194.7 78.6 L194.2 78.3 L193.6 78.1 L193.1 77.9 L192.5 77.6 L192.0 77.4 L191.4 77.2 L190.9 76.9 L190.3 76.7 L189.8 76.5 L189.2 76.2 L188.7 76.0 L188.1 75.8 L187.6 75.5 L187.0 75.3 L186.5 75.1 L185.9 74.8 L185.4 74.6 L184.8 74.4 L184.3 74.2 L183.7 73.9 L183.2 73.7 L182.6 73.5 L182.0 73.3 L181.5 73.0 L180.9 72.8 L180.4 72.6 L179.8 72.4 L179.3 72.1 L178.7 71.9 L178.2 71.7 L177.6 71.4 L177.1 71.2 L176.5 71.0 L176.0 70.8 L175.4 70.6 L174.9 70.4 L174.3 70.2 L173.7 70.0 L173.2 69.8 L172.6 69.6 L172.1 69.4 L171.5 69.2 L170.9 69.0 L170.4 68.8 L169.8 68.6 L169.3 68.3 L168.8 68.1 L168.3 67.9 L167.8 67.6 L167.2 67.4 L166.7 67.2 L166.2 66.9 L165.7 66.7 L165.1 66.5 L164.5 66.4 L163.9 66.2 L163.3 66.1 L162.8 65.9 L162.2 65.7 L161.6 65.6 L161.0 65.4 L160.4 65.3 L159.8 65.1 L159.2 65.0 L158.7 64.8 L158.1 64.7 L157.5 64.5 L156.9 64.4 L156.3 64.3 L155.7 64.1 L155.1 64.0 L154.5 63.9 L153.9 63.7 L153.3 63.6 L152.7 63.5 L152.1 63.4 L151.5 63.3 L150.9 63.2 L150.3 63.1 L149.7 62.9 L149.1 62.8 L148.5 62.7 L147.9 62.6 L147.3 62.5 L146.7 62.4 L146.1 62.3 L145.5 62.2 L144.9 62.2 L144.3 62.1 L143.7 62.0 L143.1 61.9 L142.5 61.8 L141.9 61.7 L141.3 61.6 L140.7 61.6 L140.1 61.5 L139.5 61.4 L138.9 61.4 L138.3 61.3 L137.7 61.3 L137.1 61.2 L136.4 61.2 L135.8 61.2 L135.2 61.1 L134.6 61.1 L134.0 61.1 L133.4 61.1 L132.8 61.1 L132.2 61.0 L131.6 61.0 L131.0 61.0 L130.4 61.0 L129.7 61.0 L129.1 61.0 L128.5 61.0 L127.9 61.0 L127.3 61.0 L126.7 61.0 L126.1 61.0 L125.5 61.0 L124.9 61.0 L124.2 61.0 L123.6 61.0 L123.0 61.1 L122.4 61.1 L121.8 61.1 L121.2 61.1 L120.6 61.1 L120.0 61.2 L119.4 61.2 L118.7 61.2 L118.1 61.3 L117.5 61.3 L116.9 61.3 L116.3 61.4 L115.7 61.4 L115.1 61.4 L114.5 61.5 L113.8 61.5 L113.2 61.6 L112.6 61.6 L112.0 61.6 L111.4 61.7 L110.8 61.7 L110.2 61.8 L109.6 61.8 L108.9 61.8 L108.3 61.9 L107.7 61.9 L107.1 62.0 L106.5 62.0" fill="none" stroke="#9400d3" stroke-width="1.1" stroke-dasharray="6 2.4"/>
<path d="M377.4 104.6 L376.7 104.7 L375.9 104.8 L375.2 104.8 L374.5 104.9 L373.8 105.0 L373.0 105.1 L372.3 105.2 L371.6 105.2 L370.9 105.3 L370.1 105.4 L369.4 105.5 L368.7 105.5 L367.9 105.6 L367.2 105.7 L366.5 105.8 L365.8 105.8 L365.0 105.9 L364.3 106.0 L363.6 106.0 L362.9 106.1 L362.1 106.2 L361.4 106.3 L360.7 106.3 L359.9 106.4 L359.2 106.5 L358.5 106.5 L357.8 106.6 L357.0 106.7 L356.3 106.7 L355.6 106.8 L354.9 106.9 L354.1 106.9 L353.4 107.0 L352.7 107.1 L351.9 107.2 L351.2 107.3 L350.5 107.3 L349.8 107.4 L349.0 107.5 L348.3 107.6 L347.6 107.6 L346.9 107.7 L346.1 107.8 L345.4 107.9 L344.7 107.9 L343.9 108.0 L343.2 108.1 L342.5 108.2 L341.8 108.2 L341.0 108.3 L340.3 108.3 L339.6 108.4 L338.8 108.4 L338.1 108.5 L337.4 108.5 L336.7 108.6 L335.9 108.6 L335.2 108.6 L334.5 108.7 L333.7 108.7 L333.0 108.7 L332.3 108.7 L331.5 108.7 L330.8 108.7 L330.1 108.7 L329.3 108.7 L328.6 108.7 L327.9 108.7 L327.2 108.6 L326.4 108.6 L325.7 108.6 L325.0 108.6 L324.2 108.5 L323.5 108.5 L322.8 108.5 L322.0 108.5 L321.3 108.4 L320.6 108.4 L319.8 108.4 L319.1 108.3 L318.4 108.3 L317.7 108.2 L316.9 108.2 L316.2 108.2 L315.5 108.1 L314.7 108.1 L314.0 108.1 L313.3 108.0 L312.5 108.0 L311.8 107.9 L311.1 107.9 L310.4 107.8 L309.6 107.8 L308.9 107.7 L308.2 107.7 L307.4 107.6 L306.7 107.6 L306.0 107.5 L305.3 107.4 L304.5 107.4 L303.8 107.3 L303.1 107.2 L302.3 107.2 L301.6 107.1 L300.9 107.0 L300.2 106.9 L299.4 106.9 L298.7 106.8 L298.0 106.7 L297.3 106.6 L296.5 106.5 L295.8 106.4 L295.1 106.3 L294.4 106.3 L293.6 106.2 L292.9 106.1 L292.2 106.0 L291.5 105.9 L290.7 105.8 L290.0 105.7 L289.3 105.6 L288.6 105.5 L287.8 105.4 L287.1 105.3 L286.4 105.2 L285.7 105.1 L284.9 104.9 L284.2 104.8 L283.5 104.7 L282.8 104.6 L282.1 104.4 L281.3 104.3 L280.6 104.2 L279.9 104.0 L279.2 103.9 L278.5 103.7 L277.8 103.6 L277.0 103.4 L276.3 103.3 L275.6 103.1 L274.9 103.0 L274.2 102.8 L273.5 102.7 L272.8 102.5 L272.0 102.3 L271.3 102.2 L270.6 102.0 L269.9 101.9 L269.2 101.7 L268.5 101.6 L267.8 101.4 L267.0 101.3 L266.3 101.1 L265.6 101.0 L264.9 100.8 L264.2 100.7 L263.5 100.5 L262.7 100.4 L262.0 100.3 L261.3 100.1 L260.6 100.0 L259.9 99.8 L259.2 99.7 L258.4 99.6 L257.7 99.4 L257.0 99.3 L256.3 99.2 L255.6 99.0 L254.8 98.9 L254.1 98.7 L253.4 98.6 L252.7 98.5 L252.0 98.3 L251.3 98.2 L250.5 98.0 L249.8 97.9 L249.1 97.8 L248.4 97.6 L247.7 97.5 L247.0 97.3 L246.2 97.2 L245.5 97.0 L244.8 96.9 L244.1 96.7 L243.4 96.6 L242.7 96.4 L241.9 96.2 L241.2 96.1 L240.5 95.9 L239.8 95.8 L239.1 95.6 L238.4 95.4 L237.7 95.2 L237.0 95.1 L236.3 94.9 L235.6 94.7 L234.9 94.5 L234.1 94.3 L233.4 94.1 L232.7 93.9 L232.0 93.7 L231.3 93.5 L230.6 93.3 L229.9 93.1 L229.2 92.9 L228.5 92.7 L227.8 92.5 L227.1 92.3 L226.4 92.1 L225.7 91.9 L225.0 91.7 L224.3 91.5 L223.6 91.3 L222.9 91.1 L222.2 90.9 L221.5 90.6 L220.7 90.4 L219.8 90.0 L218.9 89.7 L218.0 89.3 L217.0 88.8 L216.0 88.4 L215.0 87.9 L213.9 87.4 L212.8 86.8 L211.7 86.3 L210.6 85.8 L209.5 85.2 L208.4 84.7 L207.3 84.2 L206.2 83.7 L205.2 83.2 L204.2 82.7 L203.2 82.2 L202.3 81.8 L201.4 81.4 L200.5 81.1 L199.7 80.8 L199.0 80.5 L198.5 80.3 L197.9 80.0 L197.4 79.8 L196.8 79.5 L196.3 79.3 L195.7 79.0 L195.2 78.8 L194.6 78.5 L194.1 78.3 L193.5 78.1 L193.0 77.8 L192.4 77.6 L191.9 77.4 L191.3 77.2 L190.8 76.9 L190.2 76.7 L189.7 76.5 L189.1 76.2 L188.6 76.0 L188.0 75.8 L187.5 75.6 L186.9 75.3 L186.4 75.1 L185.8 74.9 L185.3 74.7 L184.7 74.5 L184.1 74.2 L183.6 74.0 L183.0 73.8 L182.5 73.6 L181.9 73.4 L181.4 73.1 L180.8 72.9 L180.3 72.7 L179.7 72.5 L179.1 72.3 L178.6 72.0 L178.0 71.8 L177.5 71.6 L176.9 71.4 L176.4 71.2 L175.8 71.0 L175.2 70.8 L174.7 70.6 L174.1 70.4 L173.5 70.2 L173.0 70.0 L172.4 69.9 L171.8 69.7 L171.3 69.5 L170.7 69.3 L170.1 69.2 L169.5 69.0 L169.0 68.8 L168.4 68.7 L167.8 68.5 L167.2 68.4 L166.7 68.2 L166.1 68.1 L165.5 67.9 L164.9 67.8 L164.3 67.6 L163.8 67.5 L163.2 67.3 L162.6 67.2 L162.0 67.1 L161.4 66.9 L160.8 66.8 L160.3 66.6 L159.7 66.5 L159.1 66.4 L158.5 66.3 L157.9 66.1 L157.3 66.0 L156.8 65.9 L156.2 65.7 L155.6 65.6 L155.0 65.5 L154.4 65.4 L153.8 65.3 L153.2 65.2 L152.7 65.1 L152.1 65.0 L151.5 64.9 L150.9 64.8 L150.3 64.7 L149.7 64.6 L149.1 64.5 L148.5 64.4 L147.9 64.3 L147.3 64.2 L146.7 64.1 L146.2 64.0 L145.6 64.0 L145.0 63.9 L144.4 63.8 L143.8 63.7 L143.2 63.6 L142.6 63.6 L142.0 63.5 L141.4 63.4 L140.8 63.3 L140.2 63.3 L139.6 63.2 L139.0 63.2 L138.4 63.1 L137.8 63.1 L137.2 63.0 L136.7 63.0 L136.1 62.9 L135.5 62.9 L134.9 62.9 L134.3 62.9 L133.7 62.9 L133.1 62.9 L132.5 62.8 L131.9 62.8 L131.3 62.8 L130.7 62.8 L130.1 62.8 L129.5 62.8 L128.9 62.8 L128.3 62.8 L127.7 62.8 L127.1 62.8 L126.5 62.8 L125.9 62.8 L125.3 62.8 L124.7 62.8 L124.1 62.8 L123.5 62.8 L122.9 62.8 L122.3 62.8 L121.7 62.8 L121.1 62.8 L120.5 62.8 L119.9 62.8 L119.3 62.8 L118.7 62.9 L118.1 62.9 L117.5 62.9 L116.9 62.9 L116.4 62.9 L115.8 62.9 L115.2 63.0 L114.6 63.0 L114.0 63.0 L113.4 63.0 L112.8 63.1 L112.2 63.1 L111.6 63.1 L111.0 63.1 L110.4 63.2 L109.8 63.2 L109.2 63.2 L108.6 63.2 L108.0 63.3 L107.4 63.3 L106.8 63.3" fill="none" stroke="#9400d3" stroke-width="1.1" stroke-dasharray="6 2.4"/>
<path d="M97.8 27.6 L99.2 27.0 L100.6 26.5 L102.1 26.0 L103.5 25.5 L104.9 25.0 L106.4 24.6 L107.8 24.2 L109.3 23.9 L110.8 23.7 L112.2 23.4 L113.7 23.2 L115.2 22.9 L116.7 22.7 L118.2 22.5 L119.7 22.3 L121.2 22.2 L122.8 22.1 L124.3 22.0 L125.8 22.0 L127.3 22.0 L128.8 22.1 L130.3 22.2 L131.8 22.3 L133.3 22.5 L134.8 22.6 L136.3 22.8 L137.8 23.0 L139.3 23.2 L140.8 23.4 L142.3 23.6 L143.8 23.9 L145.3 24.2 L146.7 24.6 L148.2 25.0 L149.6 25.4 L151.0 25.8 L152.3 26.4 L153.7 27.1 L155.0 27.8 L156.3 28.6 L157.6 29.4 L158.9 30.3 L160.1 31.2 L161.4 32.1 L162.6 33.0 L163.8 34.0 L165.0 34.9 L166.1 35.8 L167.3 36.8 L168.4 37.8 L169.5 38.8 L170.6 39.9 L171.7 40.9 L172.8 42.0 L173.8 43.1 L174.8 44.3 L175.8 45.4 L176.8 46.5 L177.8 47.7 L178.7 48.9 L179.6 50.1 L180.4 51.3 L181.3 52.5 L182.1 53.8 L182.9 55.1 L183.7 56.4 L184.5 57.7 L185.2 59.0 L186.0 60.3 L186.8 61.6 L187.6 62.9 L188.4 64.2 L189.2 65.4 L190.0 66.7 L190.9 67.9 L191.7 69.2 L192.6 70.5 L193.4 71.7 L194.1 73.0 L194.8 74.3 L195.4 75.7" fill="none" stroke="#0000ff" stroke-width="2.1" stroke-dasharray="10.3 5.4" stroke-dashoffset="-5.43"/>
<path d="M97.8 27.6 L99.2 27.0 L100.6 26.5 L102.1 26.0 L103.5 25.5 L104.9 25.0 L106.4 24.6 L107.8 24.2 L109.3 23.9 L110.8 23.7 L112.2 23.4 L113.7 23.2 L115.2 22.9" fill="none" stroke="#0000ff" stroke-width="2.1"/>
<path d="M195.4 75.7 L196.0 77.1 L196.5 78.5 L197.0 79.9 L197.5 81.4 L197.9 82.8 L198.4 84.3 L198.9 85.7 L199.4 87.1 L199.9 88.5 L200.4 90.0 L200.9 91.4 L201.4 92.8 L201.9 94.2 L202.4 95.6 L202.9 97.1 L203.4 98.5 L203.9 99.9 L204.4 101.3 L204.9 102.8 L205.4 104.2 L206.0 105.6 L206.5 107.0 L207.0 108.4 L207.5 109.9 L207.9 111.3 L208.3 112.7 L208.7 114.2 L209.0 115.7 L209.2 117.1 L209.5 118.6 L209.7 120.1 L210.0 121.6 L210.2 123.1 L210.4 124.6 L210.6 126.1 L210.8 127.6 L211.0 129.1 L211.2 130.6 L211.4 132.1 L211.5 133.6 L211.7 135.1 L211.9 136.6 L212.0 138.1 L212.2 139.6 L212.3 141.1 L212.5 142.6 L212.7 144.1 L212.9 145.6 L213.1 147.1 L213.3 148.6 L213.5 150.0 L213.7 151.5 L214.0 153.0 L214.2 154.5 L214.5 156.0 L214.7 157.5 L215.0 159.0 L215.3 160.4 L215.5 161.9 L215.8 163.4 L216.1 164.9 L216.4 166.4 L216.7 167.9 L216.9 169.3 L217.2 170.8 L217.5 172.3 L217.8 173.8 L218.0 175.3 L218.3 176.8 L218.6 178.2 L218.9 179.7 L219.2 181.2 L219.5 182.7 L219.8 184.1 L220.1 185.6 L220.4 187.1 L220.7 188.6 L221.0 190.1 L221.3 191.5 L221.6 193.0 L221.8 194.5 L222.1 196.0 L222.4 197.5 L222.7 198.9 L223.0 200.4 L223.2 201.9 L223.5 203.4 L223.7 204.9 L224.0 206.4 L224.2 207.8 L224.4 209.3 L224.7 210.8 L224.9 212.3 L225.1 213.8 L225.4 215.3 L225.6 216.8 L225.8 218.3 L226.0 219.8 L226.2 221.3 L226.4 222.8 L226.6 224.2 L226.8 225.7 L227.0 227.2 L227.3 228.7 L227.5 230.2 L227.7 231.7 L227.9 233.2 L228.0 234.7 L228.2 236.2 L228.4 237.7 L228.6 239.2 L228.8 240.7 L229.0 242.2 L229.2 243.7 L229.4 245.2 L229.6 246.7 L229.8 248.2 L230.0 249.7 L230.1 251.2 L230.3 252.7 L230.5 254.2 L230.7 255.7 L230.8 257.2 L231.0 258.7 L231.1 260.2 L231.3 261.7 L231.4 263.2 L231.6 264.7 L231.7 266.2 L231.9 267.7 L232.0 269.2 L232.2 270.7 L232.4 272.2 L232.5 273.7 L232.7 275.2 L232.9 276.7 L233.1 278.2 L233.3 279.6 L233.5 281.1 L233.8 282.6 L234.0 284.1 L234.3 285.6 L234.6 287.0 L235.0 288.5 L235.3 290.0 L235.7 291.4 L236.1 292.9 L236.5 294.4 L236.9 295.8 L237.3 297.3 L237.7 298.7 L238.0 300.2 L238.4 301.6 L238.8 303.1 L239.2 304.6 L239.6 306.0 L240.1 307.5 L240.5 308.9 L240.9 310.4 L241.3 311.8 L241.8 313.3 L242.2 314.7 L242.7 316.2 L243.2 317.6 L243.7 319.0 L244.2 320.4 L244.7 321.8 L245.3 323.2 L245.9 324.6 L246.5 325.9 L247.1 327.3 L247.7 328.7 L248.4 330.1 L249.1 331.4 L249.8 332.8 L250.6 334.1 L251.3 335.4 L252.1 336.7 L252.9 338.0 L253.7 339.3 L254.5 340.5 L255.3 341.7 L256.2 342.9 L257.1 344.1 L258.0 345.3" fill="none" stroke="#0000ff" stroke-width="2.1" stroke-dasharray="14.6 7.2" stroke-dashoffset="-6.01"/>
<path d="M258.0 345.3 L258.9 346.5 L259.9 347.7 L260.9 348.8 L261.9 350.0 L262.9 351.1 L264.0 352.2 L265.0 353.3 L266.1 354.4 L267.2 355.5 L268.3 356.5 L269.4 357.6 L270.5 358.6 L271.6 359.6 L272.8 360.6 L273.9 361.6 L275.0 362.5 L276.2 363.5 L277.4 364.4 L278.5 365.3 L279.7 366.2 L280.9 367.1 L282.2 368.0 L283.4 368.9 L284.7 369.7 L285.9 370.6 L287.2 371.4 L288.5 372.3 L289.8 373.1 L291.1 373.8 L292.4 374.6 L293.7 375.4 L295.0 376.1 L296.4 376.9 L297.7 377.6 L299.0 378.2 L300.3 378.9 L301.7 379.6 L303.0 380.2 L304.4 380.8 L305.8 381.4 L307.2 382.0 L308.6 382.5 L310.0 383.1 L311.4 383.6 L312.8 384.2 L314.2 384.7 L315.6 385.2 L317.1 385.7 L318.5 386.3 L319.9 386.8 L321.3 387.3 L322.7 387.9 L324.1 388.4 L325.5 389.0 L326.9 389.5 L328.3 390.1 L329.7 390.7 L331.1 391.2 L332.5 391.8 L333.9 392.4 L335.3 392.9 L336.7 393.5 L338.1 394.0 L339.5 394.6 L340.9 395.2 L342.3 395.7 L343.7 396.3 L345.1 396.8 L346.6 397.3 L348.0 397.9 L349.4 398.4 L350.8 398.9 L352.2 399.5 L353.6 400.0 L355.0 400.5 L356.4 401.1 L357.9 401.6 L359.3 402.1 L360.7 402.6 L362.1 403.1 L363.6 403.6 L365.0 404.0 L366.4 404.5 L367.9 404.9 L369.3 405.3 L370.8 405.7 L372.2 406.1 L373.7 406.5 L375.1 406.8 L376.6 407.2 L378.0 407.6 L379.5 407.9 L381.0 408.3 L382.5 408.6 L383.9 408.9 L385.4 409.3 L386.9 409.6 L388.4 409.9 L389.8 410.2 L391.3 410.5 L392.8 410.8 L394.3 411.1 L395.8 411.3 L397.3 411.6 L398.7 411.9 L400.2 412.1 L401.7 412.4 L403.2 412.6 L404.7 412.8 L406.2 413.1 L407.7 413.3 L409.1 413.5 L410.6 413.8 L412.1 414.0 L413.6 414.2 L415.1 414.4 L416.6 414.6 L418.1 414.8 L419.6 415.0 L421.1 415.2 L422.6 415.4 L424.1 415.5 L425.6 415.7 L427.1 415.8 L428.6 416.0" fill="none" stroke="#0000ff" stroke-width="2.1" stroke-dasharray="13.3 6.1" stroke-dashoffset="-3.76"/>
<path d="M389.3 1.0 L389.3 2.0 L389.2 3.0 L389.2 4.0 L389.2 5.0 L389.1 6.0 L389.1 7.0 L389.0 8.0 L389.0 9.0 L388.9 10.0 L388.9 11.0 L388.8 12.1 L388.8 13.1 L388.7 14.1 L388.7 15.1 L388.6 16.1 L388.6 17.1 L388.5 18.1 L388.4 19.1 L388.4 20.1 L388.3 21.1 L388.2 22.1 L388.2 23.1 L388.1 24.1 L388.0 25.1 L388.0 26.1 L387.9 27.1 L387.8 28.1 L387.7 29.1 L387.7 30.1 L387.6 31.1 L387.5 32.1 L387.4 33.1 L387.4 34.1 L387.3 35.1 L387.2 36.1 L387.1 37.1 L387.0 38.1 L386.9 39.1 L386.9 40.1 L386.8 41.1 L386.7 42.1 L386.6 43.1 L386.5 44.1 L386.4 45.1 L386.3 46.1 L386.2 47.1 L386.1 48.1 L386.0 49.1 L386.0 50.1 L385.9 51.1 L385.8 52.1 L385.7 53.1 L385.6 54.1 L385.5 55.1 L385.4 56.1 L385.3 57.1 L385.2 58.1 L385.1 59.1 L385.0 60.1 L384.9 61.1 L384.8 62.1 L384.7 63.1 L384.6 64.1 L384.5 65.1 L384.4 66.1 L384.3 67.1 L384.1 68.1 L384.0 69.0 L383.9 70.0 L383.8 71.0 L383.6 72.0 L383.5 73.0 L383.4 74.0 L383.2 75.0 L383.1 76.0 L383.0 77.0 L382.8 78.0 L382.7 79.0 L382.5 80.0 L382.4 81.0 L382.2 82.0 L382.1 83.0 L381.9 84.0 L381.8 85.0 L381.6 86.0 L381.5 86.9 L381.3 87.9 L381.2 88.9 L381.0 89.9 L380.9 90.9 L380.7 91.9 L380.6 92.9 L380.4 93.9 L380.3 94.9 L380.1 95.9 L379.9 96.9 L379.8 97.9 L379.6 98.8 L379.4 99.8 L379.3 100.8 L379.1 101.8 L378.9 102.8 L378.8 103.8 L378.6 104.8 L378.4 105.8 L378.3 106.8 L378.1 107.8 L377.9 108.7 L377.7 109.7 L377.5 110.7 L377.4 111.7 L377.2 112.7 L377.0 113.7 L376.8 114.7 L376.7 115.7 L376.5 116.6 L376.3 117.6 L376.1 118.6 L375.9 119.6 L375.7 120.6 L375.6 121.6 L375.4 122.6 L375.2 123.6 L375.0 124.5 L374.8 125.5 L374.6 126.5 L374.5 127.5 L374.3 128.5 L374.1 129.5 L373.9 130.5 L373.7 131.4 L373.5 132.4 L373.3 133.4 L373.1 134.4 L372.9 135.4 L372.7 136.4 L372.5 137.4 L372.3 138.3 L372.1 139.3 L371.9 140.3 L371.7 141.3 L371.5 142.3 L371.3 143.3 L371.1 144.2 L371.0 145.2 L370.8 146.2 L370.6 147.2 L370.4 148.2 L370.2 149.2 L370.0 150.2 L369.8 151.1 L369.6 152.1 L369.4 153.1 L369.2 154.1 L369.0 155.1 L368.8 156.1 L368.6 157.1 L368.4 158.0 L368.3 159.0 L368.1 160.0 L367.9 161.0 L367.7 162.0 L367.5 163.0 L367.3 164.0 L367.2 165.0 L367.0 166.0 L366.8 166.9 L366.6 167.9 L366.4 168.9 L366.2 169.9 L366.0 170.9 L365.8 171.9 L365.6 172.9 L365.4 173.8 L365.2 174.8 L365.0 175.8 L364.8 176.8 L364.6 177.8 L364.4 178.8 L364.2 179.7 L364.0 180.7 L363.8 181.7 L363.5 182.7 L363.3 183.6 L363.1 184.6 L362.8 185.6 L362.5 186.5 L362.3 187.5 L362.0 188.5 L361.7 189.4 L361.4 190.4 L361.1 191.3 L360.8 192.3 L360.5 193.3 L360.2 194.2 L359.9 195.2 L359.6 196.1 L359.2 197.1 L358.9 198.0 L358.6 199.0 L358.3 200.0 L358.0 200.9 L357.7 201.9 L357.5 202.8 L357.2 203.8 L356.9 204.8 L356.6 205.7 L356.4 206.7 L356.1 207.7 L355.8 208.6 L355.6 209.6 L355.3 210.6 L355.1 211.6 L354.8 212.5 L354.6 213.5 L354.3 214.5 L354.1 215.4 L353.8 216.4 L353.6 217.4 L353.3 218.4 L353.1 219.3 L352.8 220.3 L352.6 221.3 L352.3 222.3 L352.1 223.2 L351.9 224.2 L351.6 225.2 L351.4 226.2 L351.1 227.1 L350.9 228.1 L350.7 229.1 L350.4 230.1 L350.2 231.0 L350.0 232.0 L349.8 233.0 L349.5 234.0 L349.3 234.9 L349.1 235.9 L348.9 236.9 L348.7 237.9 L348.5 238.9 L348.3 239.9 L348.1 240.8 L347.9 241.8 L347.7 242.8 L347.5 243.8 L347.3 244.8 L347.1 245.8 L346.9 246.8 L346.7 247.7 L346.5 248.7 L346.3 249.7 L346.1 250.7 L345.9 251.7 L345.7 252.7 L345.5 253.6 L345.3 254.6 L345.1 255.6 L344.9 256.6 L344.6 257.6 L344.4 258.5 L344.2 259.5 L343.9 260.5 L343.7 261.4 L343.4 262.4 L343.1 263.4 L342.9 264.4 L342.6 265.3 L342.3 266.3 L342.1 267.3 L341.8 268.2 L341.5 269.2 L341.3 270.2 L341.0 271.1 L340.8 272.1 L340.5 273.1 L340.2 274.1 L340.0 275.0 L339.7 276.0 L339.5 277.0 L339.2 277.9 L338.9 278.9 L338.7 279.9 L338.4 280.8 L338.1 281.8 L337.9 282.8 L337.6 283.8 L337.3 284.7 L337.1 285.7 L336.8 286.7 L336.6 287.6 L336.3 288.6 L336.1 289.6 L335.9 290.6 L335.6 291.6 L335.4 292.5 L335.3 293.5 L335.1 294.5 L334.9 295.5 L334.8 296.5 L334.6 297.5 L334.5 298.4 L334.3 299.4 L334.2 300.4 L334.0 301.4 L333.9 302.4 L333.8 303.4 L333.7 304.4 L333.5 305.4 L333.4 306.4 L333.3 307.4 L333.2 308.4 L333.1 309.4 L333.0 310.4 L332.9 311.4 L332.8 312.4 L332.7 313.4 L332.7 314.4 L332.6 315.4 L332.5 316.4 L332.5 317.4 L332.4 318.4 L332.4 319.4 L332.3 320.4 L332.3 321.4 L332.2 322.4 L332.2 323.4 L332.1 324.4 L332.1 325.4 L332.0 326.4 L332.0 327.5 L332.0 328.5 L331.9 329.5 L331.9 330.5 L331.9 331.5 L331.9 332.5 L331.8 333.5 L331.8 334.5 L331.8 335.5 L331.8 336.5 L331.8 337.5 L333.5 354.0 L339.7 368.5 L350.2 381.8 L368.2 393.3 L396.0 403.5 L430.1 410.6 L470.4 415.9" fill="none" stroke="#008b00" stroke-width="1.8"/>
</g>
<text x="161.25" y="23" font-size="14.5" fill="#9128c8">GW170817 excluded (Rezzolla et al.)</text>
<text x="466.0" y="40.6" font-size="14.4" fill="#8800cc">PSR J0740+6620</text>
<text x="466.0" y="60.8" font-size="14.4" fill="#0000ff">PSR J0348+0432</text>
<text x="466.0" y="75.7" font-size="14.4" fill="#ff0000">PSR J1614-2230</text>
<text x="64.7" y="150.3" font-size="10.9" fill="#000">GW170817 excluded</text>
<text x="64.7" y="160.7" font-size="10.9" fill="#000">(Bauswein et al.)</text>
<text x="407.3" y="185.6" font-size="10.93" fill="#000">GW170817 excluded (Annala et al.)</text>
<text x="382.5" y="102.0" font-size="14.7" font-weight="bold" fill="#000">2.1 n<tspan font-size="9.6" dy="4.5">0</tspan></text>
<text x="358.4" y="225.0" font-size="14.7" font-weight="bold" fill="#000">1.79 n<tspan font-size="9.6" dy="4.5">0</tspan></text>
<text x="349.4" y="260.0" font-size="14.7" font-weight="bold" fill="#000">1.69 n<tspan font-size="9.6" dy="4.5">0</tspan></text>
<text x="340.4" y="299.5" font-size="14.7" font-weight="bold" fill="#000">1.57 n<tspan font-size="9.6" dy="4.5">0</tspan></text>
<text x="336.2" y="340.8" font-size="14.7" font-weight="bold" fill="#000">1.44 n<tspan font-size="9.6" dy="4.5">0</tspan></text>
<path d="M430.5 277.5H461.5" stroke="#000" stroke-width="0.8"/>
<path d="M430 326.7H461.5" stroke="#b050ea" stroke-width="1.15" stroke-dasharray="5.8 2.3"/>
<path d="M430 351.6H461.5" stroke="#008b00" stroke-width="1.6"/>
<path d="M430 376.1H461.5" stroke="#0000ff" stroke-width="1.9" stroke-dasharray="11 5"/>
<text x="481" y="283.75" font-size="18.1">950 MeV</text>
<text x="467.5" y="307.5" font-size="18.1">.. (25 MeV) ..</text>
<text x="477.25" y="332.5" font-size="18.1">1400 MeV</text>
<text x="476" y="356.25" font-size="18.1">DD2p40</text>
<text x="476.5" y="382.5" font-size="18.1">APR</text>
<path d="M60.70 407.00h5.0 M579.50 407.00h-5.0 M60.70 396.80h5.0 M579.50 396.80h-5.0 M60.70 386.60h10.0 M579.50 386.60h-10.0 M60.70 376.40h5.0 M579.50 376.40h-5.0 M60.70 366.20h5.0 M579.50 366.20h-5.0 M60.70 356.00h5.0 M579.50 356.00h-5.0 M60.70 345.80h10.0 M579.50 345.80h-10.0 M60.70 335.60h5.0 M579.50 335.60h-5.0 M60.70 325.40h5.0 M579.50 325.40h-5.0 M60.70 315.20h5.0 M579.50 315.20h-5.0 M60.70 305.00h10.0 M579.50 305.00h-10.0 M60.70 294.80h5.0 M579.50 294.80h-5.0 M60.70 284.60h5.0 M579.50 284.60h-5.0 M60.70 274.40h5.0 M579.50 274.40h-5.0 M60.70 264.20h10.0 M579.50 264.20h-10.0 M60.70 254.00h5.0 M579.50 254.00h-5.0 M60.70 243.80h5.0 M579.50 243.80h-5.0 M60.70 233.60h5.0 M579.50 233.60h-5.0 M60.70 223.40h10.0 M579.50 223.40h-10.0 M60.70 213.20h5.0 M579.50 213.20h-5.0 M60.70 203.00h5.0 M579.50 203.00h-5.0 M60.70 192.80h5.0 M579.50 192.80h-5.0 M60.70 182.60h10.0 M579.50 182.60h-10.0 M60.70 172.40h5.0 M579.50 172.40h-5.0 M60.70 162.20h5.0 M579.50 162.20h-5.0 M60.70 152.00h5.0 M579.50 152.00h-5.0 M60.70 141.80h10.0 M579.50 141.80h-10.0 M60.70 131.60h5.0 M579.50 131.60h-5.0 M60.70 121.40h5.0 M579.50 121.40h-5.0 M60.70 111.20h5.0 M579.50 111.20h-5.0 M60.70 101.00h10.0 M579.50 101.00h-10.0 M60.70 90.80h5.0 M579.50 90.80h-5.0 M60.70 80.60h5.0 M579.50 80.60h-5.0 M60.70 70.40h5.0 M579.50 70.40h-5.0 M60.70 60.20h10.0 M579.50 60.20h-10.0 M60.70 50.00h5.0 M579.50 50.00h-5.0 M60.70 39.80h5.0 M579.50 39.80h-5.0 M60.70 29.60h5.0 M579.50 29.60h-5.0 M60.70 19.40h10.0 M579.50 19.40h-10.0 M60.70 9.20h5.0 M579.50 9.20h-5.0 M71.35 1.15v10.0 M71.35 416.30v-10.0 M101.25 1.15v5.0 M101.25 416.30v-5.0 M131.15 1.15v10.0 M131.15 416.30v-10.0 M161.05 1.15v5.0 M161.05 416.30v-5.0 M190.95 1.15v10.0 M190.95 416.30v-10.0 M220.85 1.15v5.0 M220.85 416.30v-5.0 M250.75 1.15v10.0 M250.75 416.30v-10.0 M280.65 1.15v5.0 M280.65 416.30v-5.0 M310.55 1.15v10.0 M310.55 416.30v-10.0 M340.45 1.15v5.0 M340.45 416.30v-5.0 M370.35 1.15v10.0 M370.35 416.30v-10.0 M400.25 1.15v5.0 M400.25 416.30v-5.0 M430.15 1.15v10.0 M430.15 416.30v-10.0 M460.05 1.15v5.0 M460.05 416.30v-5.0 M489.95 1.15v10.0 M489.95 416.30v-10.0 M519.85 1.15v5.0 M519.85 416.30v-5.0 M549.75 1.15v10.0 M549.75 416.30v-10.0" stroke="#000" stroke-width="1.1" fill="none"/>
<rect x="60.70" y="1.15" width="518.80" height="415.15" fill="none" stroke="#000" stroke-width="1.3"/>
<text x="56.6" y="26.7" font-size="22" text-anchor="end">2.2</text>
<text x="56.6" y="67.5" font-size="22" text-anchor="end">2</text>
<text x="56.6" y="108.3" font-size="22" text-anchor="end">1.8</text>
<text x="56.6" y="149.1" font-size="22" text-anchor="end">1.6</text>
<text x="56.6" y="189.9" font-size="22" text-anchor="end">1.4</text>
<text x="56.6" y="230.7" font-size="22" text-anchor="end">1.2</text>
<text x="56.6" y="271.5" font-size="22" text-anchor="end">1</text>
<text x="56.6" y="312.3" font-size="22" text-anchor="end">0.8</text>
<text x="56.6" y="353.1" font-size="22" text-anchor="end">0.6</text>
<text x="56.6" y="393.9" font-size="22" text-anchor="end">0.4</text>
<text x="71.3" y="436.5" font-size="21.5" text-anchor="middle">9</text>
<text x="131.1" y="436.5" font-size="21.5" text-anchor="middle">10</text>
<text x="190.9" y="436.5" font-size="21.5" text-anchor="middle">11</text>
<text x="250.7" y="436.5" font-size="21.5" text-anchor="middle">12</text>
<text x="310.5" y="436.5" font-size="21.5" text-anchor="middle">13</text>
<text x="370.4" y="436.5" font-size="21.5" text-anchor="middle">14</text>
<text x="430.1" y="436.5" font-size="21.5" text-anchor="middle">15</text>
<text x="489.9" y="436.5" font-size="21.5" text-anchor="middle">16</text>
<text x="549.8" y="436.5" font-size="21.5" text-anchor="middle">17</text>
<text x="291" y="457.1" font-size="21.6">R [km]</text>
<g transform="translate(18.2 241.2) rotate(-90) scale(1 1.167)"><text x="0" y="0" font-size="22">M[M</text><text x="59" y="0" font-size="22">]</text></g>
<circle cx="17.8" cy="187.9" r="5.1" fill="none" stroke="#000" stroke-width="1.1"/><circle cx="17.8" cy="187.9" r="1.2" fill="#000"/>
</svg>
</body></html>
